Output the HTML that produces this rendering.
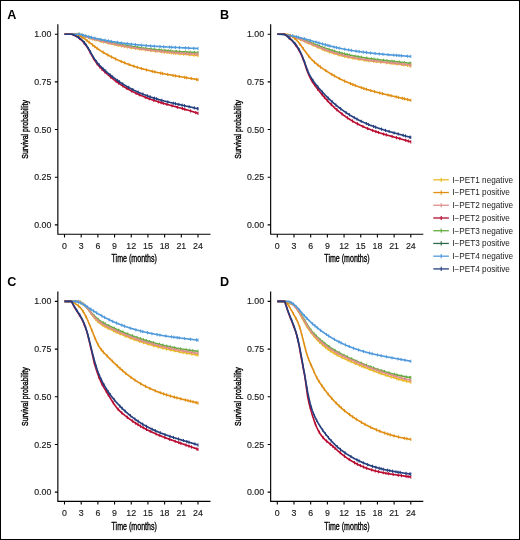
<!DOCTYPE html>
<html><head><meta charset="utf-8"><style>
html,body{margin:0;padding:0;background:#fff;}
body{width:520px;height:540px;overflow:hidden;}
svg{display:block;will-change:transform;}
text{font-family:"Liberation Sans",sans-serif;}
</style></head><body>
<svg width="520" height="540" viewBox="0 0 520 540" font-family="Liberation Sans, sans-serif">
<rect x="0.5" y="0.5" width="519" height="539" fill="#fff" stroke="#000" stroke-width="1"/>
<g transform="translate(0,0)">
<text x="7.2" y="18.9" font-size="12.6" font-weight="bold">A</text>
<path d="M57.85,24.3V234.2H210.5" fill="none" stroke="#000" stroke-width="1.15"/>
<path d="M54.85,224.90H57.85M54.85,177.23H57.85M54.85,129.55H57.85M54.85,81.88H57.85M54.85,34.20H57.85M64.50,234.2V237.39999999999998M81.19,234.2V237.39999999999998M97.88,234.2V237.39999999999998M114.56,234.2V237.39999999999998M131.25,234.2V237.39999999999998M147.94,234.2V237.39999999999998M164.62,234.2V237.39999999999998M181.31,234.2V237.39999999999998M198.00,234.2V237.39999999999998" stroke="#000" stroke-width="1.1"/>
<text x="51.3" y="228.00" font-size="8.8" text-anchor="end" fill="#1a1a1a" stroke="#1a1a1a" stroke-width="0.15">0.00</text>
<text x="51.3" y="180.33" font-size="8.8" text-anchor="end" fill="#1a1a1a" stroke="#1a1a1a" stroke-width="0.15">0.25</text>
<text x="51.3" y="132.65" font-size="8.8" text-anchor="end" fill="#1a1a1a" stroke="#1a1a1a" stroke-width="0.15">0.50</text>
<text x="51.3" y="84.98" font-size="8.8" text-anchor="end" fill="#1a1a1a" stroke="#1a1a1a" stroke-width="0.15">0.75</text>
<text x="51.3" y="37.30" font-size="8.8" text-anchor="end" fill="#1a1a1a" stroke="#1a1a1a" stroke-width="0.15">1.00</text>
<text x="64.50" y="248.6" font-size="8.8" text-anchor="middle" fill="#1a1a1a" stroke="#1a1a1a" stroke-width="0.15">0</text>
<text x="81.19" y="248.6" font-size="8.8" text-anchor="middle" fill="#1a1a1a" stroke="#1a1a1a" stroke-width="0.15">3</text>
<text x="97.88" y="248.6" font-size="8.8" text-anchor="middle" fill="#1a1a1a" stroke="#1a1a1a" stroke-width="0.15">6</text>
<text x="114.56" y="248.6" font-size="8.8" text-anchor="middle" fill="#1a1a1a" stroke="#1a1a1a" stroke-width="0.15">9</text>
<text x="131.25" y="248.6" font-size="8.8" text-anchor="middle" fill="#1a1a1a" stroke="#1a1a1a" stroke-width="0.15">12</text>
<text x="147.94" y="248.6" font-size="8.8" text-anchor="middle" fill="#1a1a1a" stroke="#1a1a1a" stroke-width="0.15">15</text>
<text x="164.62" y="248.6" font-size="8.8" text-anchor="middle" fill="#1a1a1a" stroke="#1a1a1a" stroke-width="0.15">18</text>
<text x="181.31" y="248.6" font-size="8.8" text-anchor="middle" fill="#1a1a1a" stroke="#1a1a1a" stroke-width="0.15">21</text>
<text x="198.00" y="248.6" font-size="8.8" text-anchor="middle" fill="#1a1a1a" stroke="#1a1a1a" stroke-width="0.15">24</text>
<text x="134.2" y="262.4" font-size="10" text-anchor="middle" textLength="45.3" lengthAdjust="spacingAndGlyphs" stroke="#000" stroke-width="0.35">Time (months)</text>
<text transform="translate(28.3,129.4) rotate(-90)" x="0" y="0" font-size="9.7" text-anchor="middle" textLength="58.6" lengthAdjust="spacingAndGlyphs" stroke="#000" stroke-width="0.4">Survival probability</text>
<path d="M64.5,34.2 L65.1,34.2 L65.6,34.2 L66.2,34.2 L66.7,34.2 L67.3,34.2 L67.8,34.2 L68.4,34.2 L69.0,34.2 L69.5,34.2 L70.1,34.2 L70.6,34.2 L71.2,34.2 L71.7,34.2 L72.3,34.2 L72.8,34.2 L73.4,34.2 L74.0,34.2 L74.5,34.2 L75.1,34.2 L75.6,34.2 L76.2,34.2 L76.7,34.2 L77.3,34.2 L77.8,34.2 L78.4,34.2 L79.0,34.4 L79.5,34.6 L80.1,34.8 L80.6,35.0 L81.2,35.2 L81.7,35.4 L82.3,35.6 L82.9,35.8 L83.4,36.0 L84.0,36.2 L84.5,36.3 L85.1,36.5 L85.6,36.7 L86.2,36.9 L86.8,37.1 L87.3,37.3 L87.9,37.4 L88.4,37.6 L89.0,37.8 L89.5,38.0 L90.1,38.1 L90.6,38.3 L91.2,38.5 L91.8,38.7 L92.3,38.8 L92.9,39.0 L93.4,39.2 L94.0,39.3 L94.5,39.5 L95.1,39.6 L95.7,39.8 L96.2,40.0 L96.8,40.1 L97.3,40.3 L97.9,40.4 L98.4,40.6 L99.0,40.7 L99.5,40.9 L100.1,41.0 L100.7,41.2 L101.2,41.3 L101.8,41.5 L102.3,41.6 L102.9,41.8 L103.4,41.9 L104.0,42.0 L104.6,42.2 L105.1,42.3 L105.7,42.5 L106.2,42.6 L106.8,42.7 L107.3,42.9 L107.9,43.0 L108.4,43.1 L109.0,43.3 L109.6,43.4 L110.1,43.5 L110.7,43.7 L111.2,43.8 L111.8,43.9 L112.3,44.0 L112.9,44.2 L113.5,44.3 L114.0,44.4 L114.6,44.5 L115.1,44.6 L115.7,44.8 L116.2,44.9 L116.8,45.0 L117.3,45.1 L117.9,45.2 L118.5,45.3 L119.0,45.5 L119.6,45.6 L120.1,45.7 L120.7,45.8 L121.2,45.9 L121.8,46.0 L122.3,46.1 L122.9,46.2 L123.5,46.3 L124.0,46.4 L124.6,46.5 L125.1,46.6 L125.7,46.7 L126.2,46.8 L126.8,46.9 L127.4,47.0 L127.9,47.1 L128.5,47.2 L129.0,47.3 L129.6,47.4 L130.1,47.5 L130.7,47.6 L131.2,47.7 L131.8,47.8 L132.4,47.9 L132.9,48.0 L133.5,48.1 L134.0,48.2 L134.6,48.2 L135.1,48.3 L135.7,48.4 L136.3,48.5 L136.8,48.6 L137.4,48.7 L137.9,48.8 L138.5,48.8 L139.0,48.9 L139.6,49.0 L140.2,49.1 L140.7,49.2 L141.3,49.3 L141.8,49.3 L142.4,49.4 L142.9,49.5 L143.5,49.6 L144.0,49.6 L144.6,49.7 L145.2,49.8 L145.7,49.9 L146.3,50.0 L146.8,50.0 L147.4,50.1 L147.9,50.2 L148.5,50.2 L149.1,50.3 L149.6,50.4 L150.2,50.5 L150.7,50.5 L151.3,50.6 L151.8,50.7 L152.4,50.7 L152.9,50.8 L153.5,50.9 L154.1,51.0 L154.6,51.0 L155.2,51.1 L155.7,51.2 L156.3,51.2 L156.8,51.3 L157.4,51.4 L157.9,51.4 L158.5,51.5 L159.1,51.5 L159.6,51.6 L160.2,51.7 L160.7,51.7 L161.3,51.8 L161.8,51.9 L162.4,51.9 L163.0,52.0 L163.5,52.0 L164.1,52.1 L164.6,52.2 L165.2,52.2 L165.7,52.3 L166.3,52.4 L166.9,52.4 L167.4,52.5 L168.0,52.5 L168.5,52.6 L169.1,52.6 L169.6,52.7 L170.2,52.8 L170.7,52.8 L171.3,52.9 L171.9,52.9 L172.4,53.0 L173.0,53.1 L173.5,53.1 L174.1,53.2 L174.6,53.2 L175.2,53.3 L175.8,53.3 L176.3,53.4 L176.9,53.5 L177.4,53.5 L178.0,53.6 L178.5,53.6 L179.1,53.7 L179.6,53.7 L180.2,53.8 L180.8,53.8 L181.3,53.9 L181.9,54.0 L182.4,54.0 L183.0,54.1 L183.5,54.1 L184.1,54.2 L184.7,54.2 L185.2,54.3 L185.8,54.3 L186.3,54.4 L186.9,54.5 L187.4,54.5 L188.0,54.6 L188.5,54.6 L189.1,54.7 L189.7,54.7 L190.2,54.8 L190.8,54.9 L191.3,54.9 L191.9,55.0 L192.4,55.0 L193.0,55.1 L193.6,55.1 L194.1,55.2 L194.7,55.2 L195.2,55.3 L195.8,55.4 L196.3,55.4 L196.9,55.5 L197.4,55.5 L198.0,55.6" fill="none" stroke="#E9BB22" stroke-width="1.65" stroke-linejoin="round"/><path d="M79.10,32.85V36.05M84.79,34.83V38.03M89.97,36.51V39.71M92.86,37.39V40.59M96.06,38.32V41.52M101.65,39.85V43.05M103.62,40.35V43.55M108.99,41.67V44.87M114.27,42.86V46.06M118.16,43.68V46.88M121.38,44.32V47.52M124.48,44.91V48.11M127.49,45.45V48.65M131.30,46.11V49.31M135.35,46.76V49.96M139.61,47.41V50.61M145.71,48.28V51.48M150.96,48.97V52.17M155.50,49.53V52.73M161.57,50.23V53.43M164.42,50.55V53.75M167.04,50.83V54.03M171.54,51.31V54.51M173.67,51.53V54.73M175.76,51.74V54.94M179.86,52.16V55.36M183.75,52.55V55.75M189.52,53.13V56.33M194.10,53.59V56.79M198.00,53.99V57.19" stroke="#E9BB22" stroke-width="1"/>
<path d="M64.5,34.2 L65.1,34.2 L65.6,34.2 L66.2,34.2 L66.7,34.2 L67.3,34.2 L67.8,34.2 L68.4,34.2 L69.0,34.2 L69.5,34.2 L70.1,34.2 L70.6,34.2 L71.2,34.2 L71.7,34.2 L72.3,34.2 L72.8,34.2 L73.4,34.2 L74.0,34.2 L74.5,34.2 L75.1,34.2 L75.6,34.2 L76.2,34.2 L76.7,34.2 L77.3,34.2 L77.8,34.2 L78.4,34.2 L79.0,34.4 L79.5,34.5 L80.1,34.7 L80.6,34.9 L81.2,35.0 L81.7,35.2 L82.3,35.4 L82.9,35.5 L83.4,35.7 L84.0,35.9 L84.5,36.0 L85.1,36.2 L85.6,36.3 L86.2,36.5 L86.8,36.7 L87.3,36.8 L87.9,37.0 L88.4,37.1 L89.0,37.3 L89.5,37.4 L90.1,37.6 L90.6,37.7 L91.2,37.9 L91.8,38.0 L92.3,38.2 L92.9,38.3 L93.4,38.5 L94.0,38.6 L94.5,38.8 L95.1,38.9 L95.7,39.0 L96.2,39.2 L96.8,39.3 L97.3,39.5 L97.9,39.6 L98.4,39.7 L99.0,39.9 L99.5,40.0 L100.1,40.1 L100.7,40.3 L101.2,40.4 L101.8,40.5 L102.3,40.7 L102.9,40.8 L103.4,40.9 L104.0,41.1 L104.6,41.2 L105.1,41.3 L105.7,41.4 L106.2,41.6 L106.8,41.7 L107.3,41.8 L107.9,41.9 L108.4,42.1 L109.0,42.2 L109.6,42.3 L110.1,42.4 L110.7,42.5 L111.2,42.6 L111.8,42.8 L112.3,42.9 L112.9,43.0 L113.5,43.1 L114.0,43.2 L114.6,43.3 L115.1,43.4 L115.7,43.6 L116.2,43.7 L116.8,43.8 L117.3,43.9 L117.9,44.0 L118.5,44.1 L119.0,44.2 L119.6,44.3 L120.1,44.4 L120.7,44.5 L121.2,44.6 L121.8,44.7 L122.3,44.8 L122.9,44.9 L123.5,45.0 L124.0,45.1 L124.6,45.2 L125.1,45.3 L125.7,45.4 L126.2,45.5 L126.8,45.6 L127.4,45.7 L127.9,45.8 L128.5,45.9 L129.0,46.0 L129.6,46.1 L130.1,46.2 L130.7,46.2 L131.2,46.3 L131.8,46.4 L132.4,46.5 L132.9,46.6 L133.5,46.7 L134.0,46.8 L134.6,46.9 L135.1,46.9 L135.7,47.0 L136.3,47.1 L136.8,47.2 L137.4,47.3 L137.9,47.3 L138.5,47.4 L139.0,47.5 L139.6,47.6 L140.2,47.7 L140.7,47.7 L141.3,47.8 L141.8,47.9 L142.4,48.0 L142.9,48.0 L143.5,48.1 L144.0,48.2 L144.6,48.3 L145.2,48.3 L145.7,48.4 L146.3,48.5 L146.8,48.5 L147.4,48.6 L147.9,48.7 L148.5,48.7 L149.1,48.8 L149.6,48.9 L150.2,48.9 L150.7,49.0 L151.3,49.1 L151.8,49.1 L152.4,49.2 L152.9,49.3 L153.5,49.3 L154.1,49.4 L154.6,49.5 L155.2,49.5 L155.7,49.6 L156.3,49.6 L156.8,49.7 L157.4,49.7 L157.9,49.8 L158.5,49.9 L159.1,49.9 L159.6,50.0 L160.2,50.0 L160.7,50.1 L161.3,50.1 L161.8,50.2 L162.4,50.2 L163.0,50.3 L163.5,50.3 L164.1,50.4 L164.6,50.4 L165.2,50.5 L165.7,50.5 L166.3,50.6 L166.9,50.6 L167.4,50.7 L168.0,50.7 L168.5,50.8 L169.1,50.8 L169.6,50.9 L170.2,50.9 L170.7,51.0 L171.3,51.0 L171.9,51.1 L172.4,51.1 L173.0,51.1 L173.5,51.2 L174.1,51.2 L174.6,51.3 L175.2,51.3 L175.8,51.3 L176.3,51.4 L176.9,51.4 L177.4,51.5 L178.0,51.5 L178.5,51.5 L179.1,51.6 L179.6,51.6 L180.2,51.7 L180.8,51.7 L181.3,51.7 L181.9,51.8 L182.4,51.8 L183.0,51.8 L183.5,51.9 L184.1,51.9 L184.7,51.9 L185.2,52.0 L185.8,52.0 L186.3,52.0 L186.9,52.1 L187.4,52.1 L188.0,52.1 L188.5,52.1 L189.1,52.2 L189.7,52.2 L190.2,52.2 L190.8,52.3 L191.3,52.3 L191.9,52.3 L192.4,52.3 L193.0,52.4 L193.6,52.4 L194.1,52.4 L194.7,52.4 L195.2,52.5 L195.8,52.5 L196.3,52.5 L196.9,52.5 L197.4,52.6 L198.0,52.6" fill="none" stroke="#63AC40" stroke-width="1.65" stroke-linejoin="round"/><path d="M78.39,32.60V35.80M81.37,33.50V36.70M83.36,34.09V37.29M86.11,34.88V38.08M90.95,36.21V39.41M93.73,36.94V40.14M97.22,37.83V41.03M99.18,38.32V41.52M104.59,39.59V42.79M107.18,40.17V43.37M110.25,40.84V44.04M115.87,41.99V45.19M119.94,42.78V45.98M125.42,43.76V46.96M130.04,44.54V47.74M135.08,45.33V48.53M137.41,45.67V48.87M141.61,46.26V49.46M145.68,46.80V50.00M151.26,47.48V50.68M154.71,47.86V51.06M159.16,48.33V51.53M161.35,48.54V51.74M164.91,48.88V52.08M168.21,49.16V52.36M170.78,49.37V52.57M176.13,49.78V52.98M179.66,50.02V53.22M185.69,50.39V53.59M190.10,50.62V53.82M194.57,50.83V54.03M198.00,50.98V54.18" stroke="#63AC40" stroke-width="1"/>
<path d="M64.5,34.2 L65.1,34.2 L65.6,34.2 L66.2,34.2 L66.7,34.2 L67.3,34.2 L67.8,34.2 L68.4,34.2 L69.0,34.2 L69.5,34.2 L70.1,34.2 L70.6,34.2 L71.2,34.2 L71.7,34.2 L72.3,34.2 L72.8,34.2 L73.4,34.2 L74.0,34.2 L74.5,34.2 L75.1,34.2 L75.6,34.2 L76.2,34.2 L76.7,34.2 L77.3,34.2 L77.8,34.2 L78.4,34.2 L79.0,34.4 L79.5,34.6 L80.1,34.8 L80.6,35.0 L81.2,35.1 L81.7,35.3 L82.3,35.5 L82.9,35.7 L83.4,35.9 L84.0,36.0 L84.5,36.2 L85.1,36.4 L85.6,36.6 L86.2,36.7 L86.8,36.9 L87.3,37.1 L87.9,37.3 L88.4,37.4 L89.0,37.6 L89.5,37.8 L90.1,37.9 L90.6,38.1 L91.2,38.3 L91.8,38.4 L92.3,38.6 L92.9,38.7 L93.4,38.9 L94.0,39.1 L94.5,39.2 L95.1,39.4 L95.7,39.5 L96.2,39.7 L96.8,39.8 L97.3,40.0 L97.9,40.1 L98.4,40.3 L99.0,40.4 L99.5,40.6 L100.1,40.7 L100.7,40.9 L101.2,41.0 L101.8,41.2 L102.3,41.3 L102.9,41.4 L103.4,41.6 L104.0,41.7 L104.6,41.9 L105.1,42.0 L105.7,42.1 L106.2,42.3 L106.8,42.4 L107.3,42.5 L107.9,42.7 L108.4,42.8 L109.0,42.9 L109.6,43.1 L110.1,43.2 L110.7,43.3 L111.2,43.4 L111.8,43.6 L112.3,43.7 L112.9,43.8 L113.5,43.9 L114.0,44.0 L114.6,44.2 L115.1,44.3 L115.7,44.4 L116.2,44.5 L116.8,44.6 L117.3,44.8 L117.9,44.9 L118.5,45.0 L119.0,45.1 L119.6,45.2 L120.1,45.3 L120.7,45.4 L121.2,45.5 L121.8,45.6 L122.3,45.7 L122.9,45.9 L123.5,46.0 L124.0,46.1 L124.6,46.2 L125.1,46.3 L125.7,46.4 L126.2,46.5 L126.8,46.6 L127.4,46.7 L127.9,46.8 L128.5,46.9 L129.0,47.0 L129.6,47.1 L130.1,47.2 L130.7,47.3 L131.2,47.4 L131.8,47.4 L132.4,47.5 L132.9,47.6 L133.5,47.7 L134.0,47.8 L134.6,47.9 L135.1,48.0 L135.7,48.1 L136.3,48.2 L136.8,48.2 L137.4,48.3 L137.9,48.4 L138.5,48.5 L139.0,48.6 L139.6,48.7 L140.2,48.7 L140.7,48.8 L141.3,48.9 L141.8,49.0 L142.4,49.1 L142.9,49.1 L143.5,49.2 L144.0,49.3 L144.6,49.4 L145.2,49.5 L145.7,49.5 L146.3,49.6 L146.8,49.7 L147.4,49.8 L147.9,49.8 L148.5,49.9 L149.1,50.0 L149.6,50.0 L150.2,50.1 L150.7,50.2 L151.3,50.2 L151.8,50.3 L152.4,50.4 L152.9,50.4 L153.5,50.5 L154.1,50.6 L154.6,50.6 L155.2,50.7 L155.7,50.8 L156.3,50.8 L156.8,50.9 L157.4,51.0 L157.9,51.0 L158.5,51.1 L159.1,51.1 L159.6,51.2 L160.2,51.3 L160.7,51.3 L161.3,51.4 L161.8,51.4 L162.4,51.5 L163.0,51.5 L163.5,51.6 L164.1,51.7 L164.6,51.7 L165.2,51.8 L165.7,51.8 L166.3,51.9 L166.9,51.9 L167.4,52.0 L168.0,52.0 L168.5,52.1 L169.1,52.1 L169.6,52.2 L170.2,52.2 L170.7,52.3 L171.3,52.3 L171.9,52.4 L172.4,52.4 L173.0,52.5 L173.5,52.5 L174.1,52.6 L174.6,52.6 L175.2,52.7 L175.8,52.7 L176.3,52.8 L176.9,52.8 L177.4,52.9 L178.0,52.9 L178.5,52.9 L179.1,53.0 L179.6,53.0 L180.2,53.1 L180.8,53.1 L181.3,53.2 L181.9,53.2 L182.4,53.2 L183.0,53.3 L183.5,53.3 L184.1,53.4 L184.7,53.4 L185.2,53.4 L185.8,53.5 L186.3,53.5 L186.9,53.6 L187.4,53.6 L188.0,53.6 L188.5,53.7 L189.1,53.7 L189.7,53.7 L190.2,53.8 L190.8,53.8 L191.3,53.9 L191.9,53.9 L192.4,53.9 L193.0,54.0 L193.6,54.0 L194.1,54.0 L194.7,54.1 L195.2,54.1 L195.8,54.1 L196.3,54.2 L196.9,54.2 L197.4,54.2 L198.0,54.3" fill="none" stroke="#DE8F8A" stroke-width="1.65" stroke-linejoin="round"/><path d="M79.39,32.93V36.13M81.96,33.79V36.99M85.75,35.01V38.21M88.69,35.92V39.12M92.32,36.99V40.19M94.67,37.66V40.86M100.65,39.27V42.47M103.50,40.00V43.20M108.25,41.15V44.35M111.45,41.88V45.08M117.04,43.09V46.29M121.75,44.03V47.23M124.25,44.51V47.71M129.72,45.49V48.69M135.61,46.46V49.66M141.33,47.32V50.52M145.65,47.92V51.12M148.20,48.26V51.46M150.95,48.60V51.80M156.77,49.29V52.49M161.02,49.75V52.95M163.72,50.03V53.23M169.36,50.56V53.76M173.98,50.97V54.17M178.30,51.32V54.52M181.82,51.59V54.79M185.48,51.86V55.06M188.43,52.07V55.27M190.53,52.21V55.41M196.14,52.57V55.77M198.00,52.68V55.88" stroke="#DE8F8A" stroke-width="1"/>
<path d="M64.5,34.2 L65.1,34.2 L65.6,34.2 L66.2,34.2 L66.7,34.2 L67.3,34.2 L67.8,34.2 L68.4,34.2 L69.0,34.2 L69.5,34.2 L70.1,34.2 L70.6,34.2 L71.2,34.2 L71.7,34.2 L72.3,34.2 L72.8,34.2 L73.4,34.2 L74.0,34.2 L74.5,34.3 L75.1,34.3 L75.6,34.4 L76.2,34.6 L76.7,34.7 L77.3,34.9 L77.8,35.1 L78.4,35.3 L79.0,35.5 L79.5,35.8 L80.1,36.1 L80.6,36.4 L81.2,36.7 L81.7,37.0 L82.3,37.3 L82.9,37.7 L83.4,38.0 L84.0,38.4 L84.5,38.8 L85.1,39.2 L85.6,39.6 L86.2,40.0 L86.8,40.4 L87.3,40.8 L87.9,41.3 L88.4,41.7 L89.0,42.1 L89.5,42.6 L90.1,43.0 L90.6,43.4 L91.2,43.9 L91.8,44.3 L92.3,44.7 L92.9,45.2 L93.4,45.6 L94.0,46.0 L94.5,46.5 L95.1,46.9 L95.7,47.3 L96.2,47.7 L96.8,48.1 L97.3,48.5 L97.9,48.9 L98.4,49.3 L99.0,49.6 L99.5,50.0 L100.1,50.4 L100.7,50.7 L101.2,51.1 L101.8,51.5 L102.3,51.8 L102.9,52.1 L103.4,52.5 L104.0,52.8 L104.6,53.1 L105.1,53.5 L105.7,53.8 L106.2,54.1 L106.8,54.4 L107.3,54.7 L107.9,55.0 L108.4,55.3 L109.0,55.6 L109.6,55.9 L110.1,56.2 L110.7,56.5 L111.2,56.8 L111.8,57.1 L112.3,57.3 L112.9,57.6 L113.5,57.9 L114.0,58.2 L114.6,58.4 L115.1,58.7 L115.7,59.0 L116.2,59.2 L116.8,59.5 L117.3,59.7 L117.9,60.0 L118.5,60.2 L119.0,60.5 L119.6,60.7 L120.1,61.0 L120.7,61.2 L121.2,61.5 L121.8,61.7 L122.3,61.9 L122.9,62.2 L123.5,62.4 L124.0,62.6 L124.6,62.8 L125.1,63.0 L125.7,63.3 L126.2,63.5 L126.8,63.7 L127.4,63.9 L127.9,64.1 L128.5,64.3 L129.0,64.5 L129.6,64.7 L130.1,64.9 L130.7,65.1 L131.2,65.3 L131.8,65.5 L132.4,65.7 L132.9,65.9 L133.5,66.1 L134.0,66.3 L134.6,66.4 L135.1,66.6 L135.7,66.8 L136.3,67.0 L136.8,67.1 L137.4,67.3 L137.9,67.5 L138.5,67.7 L139.0,67.8 L139.6,68.0 L140.2,68.2 L140.7,68.3 L141.3,68.5 L141.8,68.6 L142.4,68.8 L142.9,68.9 L143.5,69.1 L144.0,69.3 L144.6,69.4 L145.2,69.5 L145.7,69.7 L146.3,69.8 L146.8,70.0 L147.4,70.1 L147.9,70.3 L148.5,70.4 L149.1,70.5 L149.6,70.7 L150.2,70.8 L150.7,71.0 L151.3,71.1 L151.8,71.2 L152.4,71.3 L152.9,71.5 L153.5,71.6 L154.1,71.7 L154.6,71.9 L155.2,72.0 L155.7,72.1 L156.3,72.2 L156.8,72.3 L157.4,72.5 L157.9,72.6 L158.5,72.7 L159.1,72.8 L159.6,72.9 L160.2,73.0 L160.7,73.2 L161.3,73.3 L161.8,73.4 L162.4,73.5 L163.0,73.6 L163.5,73.7 L164.1,73.8 L164.6,73.9 L165.2,74.0 L165.7,74.1 L166.3,74.2 L166.9,74.3 L167.4,74.4 L168.0,74.5 L168.5,74.6 L169.1,74.7 L169.6,74.8 L170.2,74.9 L170.7,75.0 L171.3,75.1 L171.9,75.2 L172.4,75.3 L173.0,75.4 L173.5,75.5 L174.1,75.6 L174.6,75.7 L175.2,75.8 L175.8,75.9 L176.3,76.0 L176.9,76.1 L177.4,76.2 L178.0,76.3 L178.5,76.4 L179.1,76.5 L179.6,76.6 L180.2,76.7 L180.8,76.8 L181.3,76.9 L181.9,77.0 L182.4,77.0 L183.0,77.1 L183.5,77.2 L184.1,77.3 L184.7,77.4 L185.2,77.5 L185.8,77.6 L186.3,77.7 L186.9,77.8 L187.4,77.9 L188.0,78.0 L188.5,78.1 L189.1,78.2 L189.7,78.3 L190.2,78.4 L190.8,78.4 L191.3,78.5 L191.9,78.6 L192.4,78.7 L193.0,78.8 L193.6,78.9 L194.1,79.0 L194.7,79.1 L195.2,79.2 L195.8,79.3 L196.3,79.4 L196.9,79.5 L197.4,79.6 L198.0,79.7" fill="none" stroke="#E08E12" stroke-width="1.65" stroke-linejoin="round"/><path d="M78.67,33.82V37.02M81.96,35.52V38.72M87.04,39.03V42.23M89.10,40.62V43.82M92.60,43.37V46.57M94.67,44.96V48.16M97.13,46.77V49.97M103.11,50.68V53.88M107.80,53.37V56.57M111.53,55.34V58.54M115.67,57.36V60.56M121.25,59.86V63.06M124.64,61.25V64.45M129.05,62.93V66.13M133.85,64.59V67.79M137.28,65.69V68.89M141.39,66.91V70.11M146.53,68.31V71.51M152.27,69.72V72.92M154.84,70.30V73.50M160.68,71.54V74.74M162.65,71.93V75.13M167.74,72.90V76.10M173.07,73.86V77.06M175.59,74.29V77.49M179.28,74.92V78.12M184.63,75.81V79.01M186.64,76.15V79.35M191.21,76.92V80.12M196.46,77.83V81.03M198.00,78.11V81.31" stroke="#E08E12" stroke-width="1"/>
<path d="M64.5,34.2 L65.1,34.2 L65.6,34.2 L66.2,34.2 L66.7,34.2 L67.3,34.2 L67.8,34.2 L68.4,34.2 L69.0,34.2 L69.5,34.2 L70.1,34.2 L70.6,34.2 L71.2,34.2 L71.7,34.2 L72.3,34.2 L72.8,34.2 L73.4,34.2 L74.0,34.2 L74.5,34.2 L75.1,34.2 L75.6,34.2 L76.2,34.2 L76.7,34.2 L77.3,34.2 L77.8,34.2 L78.4,34.2 L79.0,34.2 L79.5,34.2 L80.1,34.3 L80.6,34.5 L81.2,34.7 L81.7,34.8 L82.3,35.0 L82.9,35.1 L83.4,35.3 L84.0,35.4 L84.5,35.6 L85.1,35.8 L85.6,35.9 L86.2,36.0 L86.8,36.2 L87.3,36.3 L87.9,36.5 L88.4,36.6 L89.0,36.8 L89.5,36.9 L90.1,37.0 L90.6,37.2 L91.2,37.3 L91.8,37.5 L92.3,37.6 L92.9,37.7 L93.4,37.8 L94.0,38.0 L94.5,38.1 L95.1,38.2 L95.7,38.4 L96.2,38.5 L96.8,38.6 L97.3,38.7 L97.9,38.8 L98.4,39.0 L99.0,39.1 L99.5,39.2 L100.1,39.3 L100.7,39.4 L101.2,39.5 L101.8,39.7 L102.3,39.8 L102.9,39.9 L103.4,40.0 L104.0,40.1 L104.6,40.2 L105.1,40.3 L105.7,40.4 L106.2,40.5 L106.8,40.6 L107.3,40.7 L107.9,40.8 L108.4,40.9 L109.0,41.0 L109.6,41.1 L110.1,41.2 L110.7,41.3 L111.2,41.4 L111.8,41.5 L112.3,41.6 L112.9,41.7 L113.5,41.8 L114.0,41.9 L114.6,41.9 L115.1,42.0 L115.7,42.1 L116.2,42.2 L116.8,42.3 L117.3,42.4 L117.9,42.4 L118.5,42.5 L119.0,42.6 L119.6,42.7 L120.1,42.8 L120.7,42.8 L121.2,42.9 L121.8,43.0 L122.3,43.1 L122.9,43.1 L123.5,43.2 L124.0,43.3 L124.6,43.4 L125.1,43.4 L125.7,43.5 L126.2,43.6 L126.8,43.6 L127.4,43.7 L127.9,43.8 L128.5,43.8 L129.0,43.9 L129.6,44.0 L130.1,44.0 L130.7,44.1 L131.2,44.2 L131.8,44.2 L132.4,44.3 L132.9,44.3 L133.5,44.4 L134.0,44.5 L134.6,44.5 L135.1,44.6 L135.7,44.6 L136.3,44.7 L136.8,44.7 L137.4,44.8 L137.9,44.9 L138.5,44.9 L139.0,45.0 L139.6,45.0 L140.2,45.1 L140.7,45.1 L141.3,45.2 L141.8,45.2 L142.4,45.3 L142.9,45.3 L143.5,45.4 L144.0,45.4 L144.6,45.5 L145.2,45.5 L145.7,45.5 L146.3,45.6 L146.8,45.6 L147.4,45.7 L147.9,45.7 L148.5,45.8 L149.1,45.8 L149.6,45.8 L150.2,45.9 L150.7,45.9 L151.3,46.0 L151.8,46.0 L152.4,46.1 L152.9,46.1 L153.5,46.1 L154.1,46.2 L154.6,46.2 L155.2,46.2 L155.7,46.3 L156.3,46.3 L156.8,46.4 L157.4,46.4 L157.9,46.4 L158.5,46.5 L159.1,46.5 L159.6,46.5 L160.2,46.6 L160.7,46.6 L161.3,46.6 L161.8,46.7 L162.4,46.7 L163.0,46.7 L163.5,46.8 L164.1,46.8 L164.6,46.8 L165.2,46.9 L165.7,46.9 L166.3,46.9 L166.9,47.0 L167.4,47.0 L168.0,47.0 L168.5,47.0 L169.1,47.1 L169.6,47.1 L170.2,47.1 L170.7,47.2 L171.3,47.2 L171.9,47.2 L172.4,47.3 L173.0,47.3 L173.5,47.3 L174.1,47.3 L174.6,47.4 L175.2,47.4 L175.8,47.4 L176.3,47.5 L176.9,47.5 L177.4,47.5 L178.0,47.5 L178.5,47.6 L179.1,47.6 L179.6,47.6 L180.2,47.6 L180.8,47.7 L181.3,47.7 L181.9,47.7 L182.4,47.8 L183.0,47.8 L183.5,47.8 L184.1,47.8 L184.7,47.9 L185.2,47.9 L185.8,47.9 L186.3,47.9 L186.9,48.0 L187.4,48.0 L188.0,48.0 L188.5,48.1 L189.1,48.1 L189.7,48.1 L190.2,48.1 L190.8,48.2 L191.3,48.2 L191.9,48.2 L192.4,48.2 L193.0,48.3 L193.6,48.3 L194.1,48.3 L194.7,48.4 L195.2,48.4 L195.8,48.4 L196.3,48.4 L196.9,48.5 L197.4,48.5 L198.0,48.5" fill="none" stroke="#509ADB" stroke-width="1.65" stroke-linejoin="round"/><path d="M79.66,32.64V35.84M82.55,33.46V36.66M85.33,34.22V37.42M88.79,35.12V38.32M91.49,35.79V38.99M94.88,36.58V39.78M100.78,37.86V41.06M105.12,38.71V41.91M108.48,39.32V42.52M111.56,39.85V43.05M117.48,40.79V43.99M121.28,41.33V44.53M127.32,42.11V45.31M131.42,42.58V45.78M135.54,43.02V46.22M141.23,43.56V46.76M146.27,43.99V47.19M150.64,44.33V47.53M154.37,44.59V47.79M159.98,44.95V48.15M163.64,45.17V48.37M169.44,45.50V48.70M171.67,45.61V48.81M175.41,45.81V49.01M179.53,46.01V49.21M185.44,46.30V49.50M188.44,46.45V49.65M193.74,46.71V49.91M198.00,46.94V50.14" stroke="#509ADB" stroke-width="1"/>
<path d="M64.5,34.2 L65.1,34.2 L65.6,34.2 L66.2,34.2 L66.7,34.2 L67.3,34.2 L67.8,34.2 L68.4,34.2 L69.0,34.2 L69.5,34.2 L70.1,34.2 L70.6,34.2 L71.2,34.2 L71.7,34.2 L72.3,34.4 L72.8,34.7 L73.4,34.9 L74.0,35.2 L74.5,35.5 L75.1,35.7 L75.6,36.0 L76.2,36.3 L76.7,36.6 L77.3,36.9 L77.8,37.3 L78.4,37.6 L79.0,38.0 L79.5,38.4 L80.1,38.8 L80.6,39.3 L81.2,39.8 L81.7,40.3 L82.3,40.9 L82.9,41.5 L83.4,42.1 L84.0,42.8 L84.5,43.5 L85.1,44.2 L85.6,44.9 L86.2,45.7 L86.8,46.6 L87.3,47.4 L87.9,48.3 L88.4,49.2 L89.0,50.2 L89.5,51.2 L90.1,52.2 L90.6,53.2 L91.2,54.3 L91.8,55.3 L92.3,56.3 L92.9,57.3 L93.4,58.3 L94.0,59.2 L94.5,60.1 L95.1,61.0 L95.7,61.8 L96.2,62.5 L96.8,63.3 L97.3,64.0 L97.9,64.7 L98.4,65.4 L99.0,66.0 L99.5,66.6 L100.1,67.2 L100.7,67.8 L101.2,68.4 L101.8,68.9 L102.3,69.5 L102.9,70.0 L103.4,70.6 L104.0,71.1 L104.6,71.6 L105.1,72.1 L105.7,72.7 L106.2,73.2 L106.8,73.7 L107.3,74.2 L107.9,74.7 L108.4,75.1 L109.0,75.6 L109.6,76.1 L110.1,76.6 L110.7,77.0 L111.2,77.5 L111.8,77.9 L112.3,78.4 L112.9,78.8 L113.5,79.3 L114.0,79.7 L114.6,80.1 L115.1,80.6 L115.7,81.0 L116.2,81.4 L116.8,81.8 L117.3,82.2 L117.9,82.6 L118.5,83.0 L119.0,83.4 L119.6,83.8 L120.1,84.1 L120.7,84.5 L121.2,84.9 L121.8,85.2 L122.3,85.6 L122.9,86.0 L123.5,86.3 L124.0,86.7 L124.6,87.0 L125.1,87.4 L125.7,87.7 L126.2,88.0 L126.8,88.4 L127.4,88.7 L127.9,89.0 L128.5,89.3 L129.0,89.6 L129.6,89.9 L130.1,90.2 L130.7,90.5 L131.2,90.8 L131.8,91.1 L132.4,91.4 L132.9,91.7 L133.5,92.0 L134.0,92.3 L134.6,92.5 L135.1,92.8 L135.7,93.1 L136.3,93.4 L136.8,93.6 L137.4,93.9 L137.9,94.1 L138.5,94.4 L139.0,94.6 L139.6,94.9 L140.2,95.1 L140.7,95.4 L141.3,95.6 L141.8,95.8 L142.4,96.1 L142.9,96.3 L143.5,96.5 L144.0,96.8 L144.6,97.0 L145.2,97.2 L145.7,97.4 L146.3,97.6 L146.8,97.9 L147.4,98.1 L147.9,98.3 L148.5,98.5 L149.1,98.7 L149.6,98.9 L150.2,99.1 L150.7,99.3 L151.3,99.5 L151.8,99.7 L152.4,99.9 L152.9,100.0 L153.5,100.2 L154.1,100.4 L154.6,100.6 L155.2,100.8 L155.7,101.0 L156.3,101.2 L156.8,101.3 L157.4,101.5 L157.9,101.7 L158.5,101.9 L159.1,102.0 L159.6,102.2 L160.2,102.4 L160.7,102.5 L161.3,102.7 L161.8,102.9 L162.4,103.0 L163.0,103.2 L163.5,103.4 L164.1,103.5 L164.6,103.7 L165.2,103.8 L165.7,104.0 L166.3,104.2 L166.9,104.3 L167.4,104.5 L168.0,104.6 L168.5,104.8 L169.1,104.9 L169.6,105.1 L170.2,105.2 L170.7,105.4 L171.3,105.5 L171.9,105.7 L172.4,105.9 L173.0,106.0 L173.5,106.2 L174.1,106.3 L174.6,106.5 L175.2,106.6 L175.8,106.8 L176.3,106.9 L176.9,107.1 L177.4,107.2 L178.0,107.4 L178.5,107.5 L179.1,107.7 L179.6,107.8 L180.2,108.0 L180.8,108.1 L181.3,108.3 L181.9,108.4 L182.4,108.6 L183.0,108.8 L183.5,108.9 L184.1,109.1 L184.7,109.2 L185.2,109.4 L185.8,109.5 L186.3,109.7 L186.9,109.9 L187.4,110.0 L188.0,110.2 L188.5,110.3 L189.1,110.5 L189.7,110.7 L190.2,110.8 L190.8,111.0 L191.3,111.2 L191.9,111.4 L192.4,111.5 L193.0,111.7 L193.6,111.9 L194.1,112.1 L194.7,112.2 L195.2,112.4 L195.8,112.6 L196.3,112.8 L196.9,113.0 L197.4,113.1 L198.0,113.3" fill="none" stroke="#B80A30" stroke-width="1.65" stroke-linejoin="round"/><path d="M79.61,36.88V40.08M84.19,41.44V44.64M90.19,50.80V54.00M93.52,56.83V60.03M97.13,62.17V65.37M99.92,65.43V68.63M102.08,67.65V70.85M104.92,70.37V73.57M110.68,75.44V78.64M116.14,79.71V82.91M118.55,81.45V84.65M123.02,84.44V87.64M126.96,86.85V90.05M131.39,89.31V92.51M136.09,91.67V94.87M139.31,93.16V96.36M145.27,95.65V98.85M149.16,97.12V100.32M153.73,98.71V101.91M158.33,100.20V103.40M161.04,101.02V104.22M163.25,101.68V104.88M166.91,102.73V105.93M172.04,104.15V107.35M177.39,105.61V108.81M182.38,106.98V110.18M184.80,107.66V110.86M190.56,109.35V112.55M195.85,111.02V114.22M198.00,111.74V114.94" stroke="#B80A30" stroke-width="1"/>
<path d="M64.5,34.2 L65.1,34.2 L65.6,34.2 L66.2,34.2 L66.7,34.2 L67.3,34.2 L67.8,34.2 L68.4,34.2 L69.0,34.2 L69.5,34.2 L70.1,34.2 L70.6,34.2 L71.2,34.2 L71.7,34.2 L72.3,34.4 L72.8,34.6 L73.4,34.9 L74.0,35.1 L74.5,35.3 L75.1,35.6 L75.6,35.8 L76.2,36.1 L76.7,36.4 L77.3,36.7 L77.8,37.0 L78.4,37.3 L79.0,37.7 L79.5,38.1 L80.1,38.5 L80.6,38.9 L81.2,39.4 L81.7,39.9 L82.3,40.4 L82.9,41.0 L83.4,41.6 L84.0,42.2 L84.5,42.9 L85.1,43.6 L85.6,44.3 L86.2,45.1 L86.8,45.9 L87.3,46.7 L87.9,47.6 L88.4,48.5 L89.0,49.4 L89.5,50.4 L90.1,51.3 L90.6,52.3 L91.2,53.3 L91.8,54.3 L92.3,55.3 L92.9,56.3 L93.4,57.2 L94.0,58.1 L94.5,59.0 L95.1,59.8 L95.7,60.6 L96.2,61.4 L96.8,62.1 L97.3,62.8 L97.9,63.4 L98.4,64.1 L99.0,64.7 L99.5,65.3 L100.1,65.9 L100.7,66.4 L101.2,67.0 L101.8,67.5 L102.3,68.0 L102.9,68.6 L103.4,69.1 L104.0,69.6 L104.6,70.1 L105.1,70.6 L105.7,71.1 L106.2,71.6 L106.8,72.1 L107.3,72.6 L107.9,73.0 L108.4,73.5 L109.0,74.0 L109.6,74.4 L110.1,74.9 L110.7,75.3 L111.2,75.8 L111.8,76.2 L112.3,76.6 L112.9,77.1 L113.5,77.5 L114.0,77.9 L114.6,78.3 L115.1,78.7 L115.7,79.2 L116.2,79.6 L116.8,80.0 L117.3,80.3 L117.9,80.7 L118.5,81.1 L119.0,81.5 L119.6,81.9 L120.1,82.2 L120.7,82.6 L121.2,83.0 L121.8,83.3 L122.3,83.7 L122.9,84.0 L123.5,84.4 L124.0,84.7 L124.6,85.0 L125.1,85.4 L125.7,85.7 L126.2,86.0 L126.8,86.4 L127.4,86.7 L127.9,87.0 L128.5,87.3 L129.0,87.6 L129.6,87.9 L130.1,88.2 L130.7,88.5 L131.2,88.8 L131.8,89.1 L132.4,89.4 L132.9,89.6 L133.5,89.9 L134.0,90.2 L134.6,90.5 L135.1,90.7 L135.7,91.0 L136.3,91.2 L136.8,91.5 L137.4,91.8 L137.9,92.0 L138.5,92.3 L139.0,92.5 L139.6,92.7 L140.2,93.0 L140.7,93.2 L141.3,93.5 L141.8,93.7 L142.4,93.9 L142.9,94.1 L143.5,94.4 L144.0,94.6 L144.6,94.8 L145.2,95.0 L145.7,95.2 L146.3,95.4 L146.8,95.6 L147.4,95.8 L147.9,96.0 L148.5,96.2 L149.1,96.4 L149.6,96.6 L150.2,96.8 L150.7,97.0 L151.3,97.2 L151.8,97.4 L152.4,97.6 L152.9,97.7 L153.5,97.9 L154.1,98.1 L154.6,98.3 L155.2,98.4 L155.7,98.6 L156.3,98.8 L156.8,98.9 L157.4,99.1 L157.9,99.3 L158.5,99.4 L159.1,99.6 L159.6,99.7 L160.2,99.9 L160.7,100.1 L161.3,100.2 L161.8,100.4 L162.4,100.5 L163.0,100.7 L163.5,100.8 L164.1,101.0 L164.6,101.1 L165.2,101.2 L165.7,101.4 L166.3,101.5 L166.9,101.7 L167.4,101.8 L168.0,101.9 L168.5,102.1 L169.1,102.2 L169.6,102.3 L170.2,102.5 L170.7,102.6 L171.3,102.7 L171.9,102.9 L172.4,103.0 L173.0,103.1 L173.5,103.3 L174.1,103.4 L174.6,103.5 L175.2,103.6 L175.8,103.8 L176.3,103.9 L176.9,104.0 L177.4,104.1 L178.0,104.3 L178.5,104.4 L179.1,104.5 L179.6,104.6 L180.2,104.8 L180.8,104.9 L181.3,105.0 L181.9,105.1 L182.4,105.2 L183.0,105.4 L183.5,105.5 L184.1,105.6 L184.7,105.7 L185.2,105.9 L185.8,106.0 L186.3,106.1 L186.9,106.2 L187.4,106.3 L188.0,106.5 L188.5,106.6 L189.1,106.7 L189.7,106.8 L190.2,107.0 L190.8,107.1 L191.3,107.2 L191.9,107.3 L192.4,107.5 L193.0,107.6 L193.6,107.7 L194.1,107.9 L194.7,108.0 L195.2,108.1 L195.8,108.2 L196.3,108.4 L196.9,108.5 L197.4,108.6 L198.0,108.8" fill="none" stroke="#233F7E" stroke-width="1.65" stroke-linejoin="round"/><path d="M78.54,35.80V39.00M84.30,41.00V44.20M86.44,43.81V47.01M88.52,47.02V50.22M90.55,50.57V53.77M93.55,55.83V59.03M96.53,60.19V63.39M99.26,63.39V66.59M103.58,67.62V70.82M105.69,69.52V72.72M110.09,73.27V76.47M112.73,75.35V78.55M117.51,78.86V82.06M119.54,80.25V83.45M122.79,82.35V85.55M128.65,85.79V88.99M132.84,88.00V91.20M138.17,90.52V93.72M142.87,92.51V95.71M147.36,94.22V97.42M150.11,95.19V98.39M154.45,96.61V99.81M156.56,97.26V100.46M161.85,98.76V101.96M167.80,100.30V103.50M173.31,101.61V104.81M175.47,102.10V105.30M178.83,102.86V106.06M182.11,103.58V106.78M184.52,104.11V107.31M189.08,105.11V108.31M194.36,106.31V109.51M197.61,107.08V110.28M198.00,107.17V110.37" stroke="#233F7E" stroke-width="1"/>
</g>
<g transform="translate(212.8,0)">
<text x="7.2" y="18.9" font-size="12.6" font-weight="bold">B</text>
<path d="M57.85,24.3V234.2H210.5" fill="none" stroke="#000" stroke-width="1.15"/>
<path d="M54.85,224.90H57.85M54.85,177.23H57.85M54.85,129.55H57.85M54.85,81.88H57.85M54.85,34.20H57.85M64.50,234.2V237.39999999999998M81.19,234.2V237.39999999999998M97.88,234.2V237.39999999999998M114.56,234.2V237.39999999999998M131.25,234.2V237.39999999999998M147.94,234.2V237.39999999999998M164.62,234.2V237.39999999999998M181.31,234.2V237.39999999999998M198.00,234.2V237.39999999999998" stroke="#000" stroke-width="1.1"/>
<text x="51.3" y="228.00" font-size="8.8" text-anchor="end" fill="#1a1a1a" stroke="#1a1a1a" stroke-width="0.15">0.00</text>
<text x="51.3" y="180.33" font-size="8.8" text-anchor="end" fill="#1a1a1a" stroke="#1a1a1a" stroke-width="0.15">0.25</text>
<text x="51.3" y="132.65" font-size="8.8" text-anchor="end" fill="#1a1a1a" stroke="#1a1a1a" stroke-width="0.15">0.50</text>
<text x="51.3" y="84.98" font-size="8.8" text-anchor="end" fill="#1a1a1a" stroke="#1a1a1a" stroke-width="0.15">0.75</text>
<text x="51.3" y="37.30" font-size="8.8" text-anchor="end" fill="#1a1a1a" stroke="#1a1a1a" stroke-width="0.15">1.00</text>
<text x="64.50" y="248.6" font-size="8.8" text-anchor="middle" fill="#1a1a1a" stroke="#1a1a1a" stroke-width="0.15">0</text>
<text x="81.19" y="248.6" font-size="8.8" text-anchor="middle" fill="#1a1a1a" stroke="#1a1a1a" stroke-width="0.15">3</text>
<text x="97.88" y="248.6" font-size="8.8" text-anchor="middle" fill="#1a1a1a" stroke="#1a1a1a" stroke-width="0.15">6</text>
<text x="114.56" y="248.6" font-size="8.8" text-anchor="middle" fill="#1a1a1a" stroke="#1a1a1a" stroke-width="0.15">9</text>
<text x="131.25" y="248.6" font-size="8.8" text-anchor="middle" fill="#1a1a1a" stroke="#1a1a1a" stroke-width="0.15">12</text>
<text x="147.94" y="248.6" font-size="8.8" text-anchor="middle" fill="#1a1a1a" stroke="#1a1a1a" stroke-width="0.15">15</text>
<text x="164.62" y="248.6" font-size="8.8" text-anchor="middle" fill="#1a1a1a" stroke="#1a1a1a" stroke-width="0.15">18</text>
<text x="181.31" y="248.6" font-size="8.8" text-anchor="middle" fill="#1a1a1a" stroke="#1a1a1a" stroke-width="0.15">21</text>
<text x="198.00" y="248.6" font-size="8.8" text-anchor="middle" fill="#1a1a1a" stroke="#1a1a1a" stroke-width="0.15">24</text>
<text x="134.2" y="262.4" font-size="10" text-anchor="middle" textLength="45.3" lengthAdjust="spacingAndGlyphs" stroke="#000" stroke-width="0.35">Time (months)</text>
<text transform="translate(28.3,129.4) rotate(-90)" x="0" y="0" font-size="9.7" text-anchor="middle" textLength="58.6" lengthAdjust="spacingAndGlyphs" stroke="#000" stroke-width="0.4">Survival probability</text>
<path d="M64.5,34.2 L65.1,34.2 L65.6,34.2 L66.2,34.2 L66.7,34.2 L67.3,34.2 L67.8,34.2 L68.4,34.2 L69.0,34.3 L69.5,34.3 L70.1,34.4 L70.6,34.4 L71.2,34.5 L71.7,34.6 L72.3,34.7 L72.8,34.8 L73.4,34.9 L74.0,35.0 L74.5,35.1 L75.1,35.3 L75.6,35.4 L76.2,35.5 L76.7,35.7 L77.3,35.8 L77.8,36.0 L78.4,36.1 L79.0,36.3 L79.5,36.5 L80.1,36.7 L80.6,36.9 L81.2,37.0 L81.7,37.2 L82.3,37.4 L82.9,37.6 L83.4,37.8 L84.0,38.0 L84.5,38.3 L85.1,38.5 L85.6,38.7 L86.2,38.9 L86.8,39.2 L87.3,39.4 L87.9,39.6 L88.4,39.9 L89.0,40.1 L89.5,40.3 L90.1,40.6 L90.6,40.8 L91.2,41.1 L91.8,41.3 L92.3,41.6 L92.9,41.8 L93.4,42.1 L94.0,42.3 L94.5,42.6 L95.1,42.8 L95.7,43.1 L96.2,43.3 L96.8,43.6 L97.3,43.8 L97.9,44.1 L98.4,44.3 L99.0,44.6 L99.5,44.8 L100.1,45.1 L100.7,45.3 L101.2,45.6 L101.8,45.8 L102.3,46.1 L102.9,46.3 L103.4,46.6 L104.0,46.8 L104.6,47.1 L105.1,47.3 L105.7,47.5 L106.2,47.8 L106.8,48.0 L107.3,48.3 L107.9,48.5 L108.4,48.7 L109.0,49.0 L109.6,49.2 L110.1,49.4 L110.7,49.6 L111.2,49.9 L111.8,50.1 L112.3,50.3 L112.9,50.5 L113.5,50.7 L114.0,50.9 L114.6,51.2 L115.1,51.4 L115.7,51.6 L116.2,51.8 L116.8,52.0 L117.3,52.2 L117.9,52.4 L118.5,52.6 L119.0,52.7 L119.6,52.9 L120.1,53.1 L120.7,53.3 L121.2,53.5 L121.8,53.6 L122.3,53.8 L122.9,54.0 L123.5,54.2 L124.0,54.3 L124.6,54.5 L125.1,54.6 L125.7,54.8 L126.2,55.0 L126.8,55.1 L127.4,55.3 L127.9,55.4 L128.5,55.6 L129.0,55.7 L129.6,55.9 L130.1,56.0 L130.7,56.1 L131.2,56.3 L131.8,56.4 L132.4,56.5 L132.9,56.7 L133.5,56.8 L134.0,56.9 L134.6,57.0 L135.1,57.2 L135.7,57.3 L136.3,57.4 L136.8,57.5 L137.4,57.6 L137.9,57.8 L138.5,57.9 L139.0,58.0 L139.6,58.1 L140.2,58.2 L140.7,58.3 L141.3,58.4 L141.8,58.5 L142.4,58.6 L142.9,58.7 L143.5,58.8 L144.0,58.9 L144.6,59.0 L145.2,59.1 L145.7,59.2 L146.3,59.3 L146.8,59.4 L147.4,59.5 L147.9,59.5 L148.5,59.6 L149.1,59.7 L149.6,59.8 L150.2,59.9 L150.7,60.0 L151.3,60.1 L151.8,60.1 L152.4,60.2 L152.9,60.3 L153.5,60.4 L154.1,60.4 L154.6,60.5 L155.2,60.6 L155.7,60.7 L156.3,60.7 L156.8,60.8 L157.4,60.9 L157.9,60.9 L158.5,61.0 L159.1,61.1 L159.6,61.2 L160.2,61.2 L160.7,61.3 L161.3,61.4 L161.8,61.4 L162.4,61.5 L163.0,61.6 L163.5,61.6 L164.1,61.7 L164.6,61.7 L165.2,61.8 L165.7,61.9 L166.3,61.9 L166.9,62.0 L167.4,62.1 L168.0,62.1 L168.5,62.2 L169.1,62.2 L169.6,62.3 L170.2,62.4 L170.7,62.4 L171.3,62.5 L171.9,62.5 L172.4,62.6 L173.0,62.7 L173.5,62.7 L174.1,62.8 L174.6,62.9 L175.2,62.9 L175.8,63.0 L176.3,63.0 L176.9,63.1 L177.4,63.2 L178.0,63.2 L178.5,63.3 L179.1,63.4 L179.6,63.4 L180.2,63.5 L180.8,63.5 L181.3,63.6 L181.9,63.7 L182.4,63.7 L183.0,63.8 L183.5,63.9 L184.1,63.9 L184.7,64.0 L185.2,64.1 L185.8,64.1 L186.3,64.2 L186.9,64.3 L187.4,64.4 L188.0,64.4 L188.5,64.5 L189.1,64.6 L189.7,64.7 L190.2,64.7 L190.8,64.8 L191.3,64.9 L191.9,65.0 L192.4,65.0 L193.0,65.1 L193.6,65.2 L194.1,65.3 L194.7,65.4 L195.2,65.5 L195.8,65.5 L196.3,65.6 L196.9,65.7 L197.4,65.8 L198.0,65.9" fill="none" stroke="#E9BB22" stroke-width="1.65" stroke-linejoin="round"/><path d="M80.06,35.06V38.26M82.54,35.92V39.12M87.69,37.95V41.15M93.32,40.41V43.61M96.09,41.66V44.86M100.43,43.63V46.83M105.04,45.67V48.87M109.53,47.57V50.77M111.88,48.52V51.72M116.58,50.30V53.50M121.17,51.85V55.05M126.55,53.45V56.65M131.85,54.82V58.02M135.16,55.58V58.78M140.12,56.59V59.79M145.69,57.59V60.79M151.36,58.46V61.66M153.98,58.83V62.03M156.04,59.10V62.30M160.70,59.69V62.89M163.54,60.02V63.22M167.84,60.51V63.71M173.73,61.15V64.35M177.26,61.55V64.75M180.26,61.89V65.09M184.11,62.34V65.54M188.80,62.94V66.14M191.17,63.26V66.46M194.70,63.77V66.97M197.21,64.17V67.37M198.00,64.30V67.50" stroke="#E9BB22" stroke-width="1"/>
<path d="M64.5,34.2 L65.1,34.2 L65.6,34.2 L66.2,34.2 L66.7,34.2 L67.3,34.2 L67.8,34.2 L68.4,34.2 L69.0,34.2 L69.5,34.3 L70.1,34.3 L70.6,34.4 L71.2,34.4 L71.7,34.5 L72.3,34.6 L72.8,34.6 L73.4,34.7 L74.0,34.8 L74.5,34.9 L75.1,35.0 L75.6,35.1 L76.2,35.3 L76.7,35.4 L77.3,35.5 L77.8,35.6 L78.4,35.8 L79.0,35.9 L79.5,36.1 L80.1,36.2 L80.6,36.4 L81.2,36.5 L81.7,36.7 L82.3,36.9 L82.9,37.0 L83.4,37.2 L84.0,37.4 L84.5,37.6 L85.1,37.8 L85.6,38.0 L86.2,38.1 L86.8,38.3 L87.3,38.5 L87.9,38.7 L88.4,38.9 L89.0,39.1 L89.5,39.4 L90.1,39.6 L90.6,39.8 L91.2,40.0 L91.8,40.2 L92.3,40.4 L92.9,40.6 L93.4,40.9 L94.0,41.1 L94.5,41.3 L95.1,41.5 L95.7,41.7 L96.2,41.9 L96.8,42.2 L97.3,42.4 L97.9,42.6 L98.4,42.8 L99.0,43.1 L99.5,43.3 L100.1,43.5 L100.7,43.7 L101.2,43.9 L101.8,44.2 L102.3,44.4 L102.9,44.6 L103.4,44.8 L104.0,45.0 L104.6,45.2 L105.1,45.5 L105.7,45.7 L106.2,45.9 L106.8,46.1 L107.3,46.3 L107.9,46.5 L108.4,46.7 L109.0,46.9 L109.6,47.1 L110.1,47.3 L110.7,47.6 L111.2,47.8 L111.8,48.0 L112.3,48.2 L112.9,48.4 L113.5,48.5 L114.0,48.7 L114.6,48.9 L115.1,49.1 L115.7,49.3 L116.2,49.5 L116.8,49.7 L117.3,49.9 L117.9,50.0 L118.5,50.2 L119.0,50.4 L119.6,50.6 L120.1,50.7 L120.7,50.9 L121.2,51.1 L121.8,51.3 L122.3,51.4 L122.9,51.6 L123.5,51.7 L124.0,51.9 L124.6,52.1 L125.1,52.2 L125.7,52.4 L126.2,52.5 L126.8,52.7 L127.4,52.8 L127.9,53.0 L128.5,53.1 L129.0,53.2 L129.6,53.4 L130.1,53.5 L130.7,53.7 L131.2,53.8 L131.8,53.9 L132.4,54.1 L132.9,54.2 L133.5,54.3 L134.0,54.4 L134.6,54.6 L135.1,54.7 L135.7,54.8 L136.3,54.9 L136.8,55.1 L137.4,55.2 L137.9,55.3 L138.5,55.4 L139.0,55.5 L139.6,55.6 L140.2,55.8 L140.7,55.9 L141.3,56.0 L141.8,56.1 L142.4,56.2 L142.9,56.3 L143.5,56.4 L144.0,56.5 L144.6,56.6 L145.2,56.7 L145.7,56.8 L146.3,56.9 L146.8,57.0 L147.4,57.1 L147.9,57.2 L148.5,57.3 L149.1,57.4 L149.6,57.5 L150.2,57.6 L150.7,57.6 L151.3,57.7 L151.8,57.8 L152.4,57.9 L152.9,58.0 L153.5,58.1 L154.1,58.2 L154.6,58.2 L155.2,58.3 L155.7,58.4 L156.3,58.5 L156.8,58.6 L157.4,58.6 L157.9,58.7 L158.5,58.8 L159.1,58.9 L159.6,58.9 L160.2,59.0 L160.7,59.1 L161.3,59.2 L161.8,59.2 L162.4,59.3 L163.0,59.4 L163.5,59.5 L164.1,59.5 L164.6,59.6 L165.2,59.7 L165.7,59.7 L166.3,59.8 L166.9,59.9 L167.4,59.9 L168.0,60.0 L168.5,60.1 L169.1,60.1 L169.6,60.2 L170.2,60.3 L170.7,60.3 L171.3,60.4 L171.9,60.4 L172.4,60.5 L173.0,60.6 L173.5,60.6 L174.1,60.7 L174.6,60.8 L175.2,60.8 L175.8,60.9 L176.3,60.9 L176.9,61.0 L177.4,61.1 L178.0,61.1 L178.5,61.2 L179.1,61.3 L179.6,61.3 L180.2,61.4 L180.8,61.4 L181.3,61.5 L181.9,61.6 L182.4,61.6 L183.0,61.7 L183.5,61.7 L184.1,61.8 L184.7,61.9 L185.2,61.9 L185.8,62.0 L186.3,62.0 L186.9,62.1 L187.4,62.2 L188.0,62.2 L188.5,62.3 L189.1,62.3 L189.7,62.4 L190.2,62.5 L190.8,62.5 L191.3,62.6 L191.9,62.7 L192.4,62.7 L193.0,62.8 L193.6,62.8 L194.1,62.9 L194.7,63.0 L195.2,63.0 L195.8,63.1 L196.3,63.2 L196.9,63.2 L197.4,63.3 L198.0,63.4" fill="none" stroke="#63AC40" stroke-width="1.65" stroke-linejoin="round"/><path d="M80.24,34.67V37.87M83.76,35.73V38.93M87.26,36.93V40.13M91.46,38.49V41.69M94.30,39.60V42.80M97.28,40.78V43.98M100.61,42.09V45.29M104.46,43.60V46.80M106.75,44.49V47.69M111.83,46.38V49.58M116.20,47.89V51.09M119.39,48.92V52.12M121.67,49.61V52.81M126.80,51.06V54.26M129.29,51.71V54.91M131.79,52.33V55.53M134.28,52.91V56.11M136.57,53.41V56.61M142.30,54.57V57.77M145.37,55.14V58.34M148.59,55.70V58.90M154.01,56.55V59.75M158.55,57.20V60.40M161.28,57.56V60.76M165.04,58.04V61.24M170.67,58.71V61.91M174.18,59.11V62.31M179.10,59.65V62.85M181.45,59.91V63.11M186.43,60.45V63.65M191.61,61.03V64.23M197.01,61.66V64.86M198.00,61.78V64.98" stroke="#63AC40" stroke-width="1"/>
<path d="M64.5,34.2 L65.1,34.2 L65.6,34.2 L66.2,34.2 L66.7,34.2 L67.3,34.2 L67.8,34.2 L68.4,34.3 L69.0,34.3 L69.5,34.4 L70.1,34.4 L70.6,34.5 L71.2,34.6 L71.7,34.6 L72.3,34.7 L72.8,34.8 L73.4,34.9 L74.0,35.0 L74.5,35.1 L75.1,35.3 L75.6,35.4 L76.2,35.5 L76.7,35.7 L77.3,35.8 L77.8,35.9 L78.4,36.1 L79.0,36.2 L79.5,36.4 L80.1,36.6 L80.6,36.7 L81.2,36.9 L81.7,37.1 L82.3,37.3 L82.9,37.5 L83.4,37.7 L84.0,37.9 L84.5,38.1 L85.1,38.3 L85.6,38.5 L86.2,38.7 L86.8,38.9 L87.3,39.1 L87.9,39.3 L88.4,39.5 L89.0,39.8 L89.5,40.0 L90.1,40.2 L90.6,40.4 L91.2,40.7 L91.8,40.9 L92.3,41.1 L92.9,41.4 L93.4,41.6 L94.0,41.8 L94.5,42.1 L95.1,42.3 L95.7,42.6 L96.2,42.8 L96.8,43.0 L97.3,43.3 L97.9,43.5 L98.4,43.8 L99.0,44.0 L99.5,44.2 L100.1,44.5 L100.7,44.7 L101.2,45.0 L101.8,45.2 L102.3,45.4 L102.9,45.7 L103.4,45.9 L104.0,46.1 L104.6,46.4 L105.1,46.6 L105.7,46.8 L106.2,47.1 L106.8,47.3 L107.3,47.5 L107.9,47.8 L108.4,48.0 L109.0,48.2 L109.6,48.4 L110.1,48.7 L110.7,48.9 L111.2,49.1 L111.8,49.3 L112.3,49.5 L112.9,49.7 L113.5,50.0 L114.0,50.2 L114.6,50.4 L115.1,50.6 L115.7,50.8 L116.2,51.0 L116.8,51.2 L117.3,51.4 L117.9,51.6 L118.5,51.8 L119.0,51.9 L119.6,52.1 L120.1,52.3 L120.7,52.5 L121.2,52.7 L121.8,52.8 L122.3,53.0 L122.9,53.2 L123.5,53.4 L124.0,53.5 L124.6,53.7 L125.1,53.9 L125.7,54.0 L126.2,54.2 L126.8,54.3 L127.4,54.5 L127.9,54.6 L128.5,54.8 L129.0,54.9 L129.6,55.1 L130.1,55.2 L130.7,55.4 L131.2,55.5 L131.8,55.6 L132.4,55.8 L132.9,55.9 L133.5,56.1 L134.0,56.2 L134.6,56.3 L135.1,56.4 L135.7,56.6 L136.3,56.7 L136.8,56.8 L137.4,56.9 L137.9,57.1 L138.5,57.2 L139.0,57.3 L139.6,57.4 L140.2,57.5 L140.7,57.6 L141.3,57.7 L141.8,57.8 L142.4,57.9 L142.9,58.1 L143.5,58.2 L144.0,58.3 L144.6,58.4 L145.2,58.5 L145.7,58.6 L146.3,58.7 L146.8,58.8 L147.4,58.8 L147.9,58.9 L148.5,59.0 L149.1,59.1 L149.6,59.2 L150.2,59.3 L150.7,59.4 L151.3,59.5 L151.8,59.6 L152.4,59.6 L152.9,59.7 L153.5,59.8 L154.1,59.9 L154.6,60.0 L155.2,60.1 L155.7,60.1 L156.3,60.2 L156.8,60.3 L157.4,60.4 L157.9,60.4 L158.5,60.5 L159.1,60.6 L159.6,60.7 L160.2,60.7 L160.7,60.8 L161.3,60.9 L161.8,60.9 L162.4,61.0 L163.0,61.1 L163.5,61.1 L164.1,61.2 L164.6,61.3 L165.2,61.3 L165.7,61.4 L166.3,61.5 L166.9,61.5 L167.4,61.6 L168.0,61.7 L168.5,61.7 L169.1,61.8 L169.6,61.9 L170.2,61.9 L170.7,62.0 L171.3,62.0 L171.9,62.1 L172.4,62.2 L173.0,62.2 L173.5,62.3 L174.1,62.3 L174.6,62.4 L175.2,62.5 L175.8,62.5 L176.3,62.6 L176.9,62.6 L177.4,62.7 L178.0,62.8 L178.5,62.8 L179.1,62.9 L179.6,62.9 L180.2,63.0 L180.8,63.1 L181.3,63.1 L181.9,63.2 L182.4,63.2 L183.0,63.3 L183.5,63.4 L184.1,63.4 L184.7,63.5 L185.2,63.5 L185.8,63.6 L186.3,63.7 L186.9,63.7 L187.4,63.8 L188.0,63.9 L188.5,63.9 L189.1,64.0 L189.7,64.0 L190.2,64.1 L190.8,64.2 L191.3,64.2 L191.9,64.3 L192.4,64.4 L193.0,64.4 L193.6,64.5 L194.1,64.6 L194.7,64.6 L195.2,64.7 L195.8,64.8 L196.3,64.9 L196.9,64.9 L197.4,65.0 L198.0,65.1" fill="none" stroke="#DE8F8A" stroke-width="1.65" stroke-linejoin="round"/><path d="M77.69,34.30V37.50M79.90,34.93V38.13M84.01,36.28V39.48M89.12,38.23V41.43M91.86,39.35V42.55M94.92,40.65V43.85M99.10,42.45V45.65M104.17,44.61V47.81M109.86,46.96V50.16M112.33,47.93V51.13M115.05,48.95V52.15M120.33,50.78V53.98M124.97,52.21V55.41M129.92,53.57V56.77M136.03,55.04V58.24M141.89,56.26V59.46M147.35,57.24V60.44M152.54,58.07V61.27M156.14,58.59V61.79M160.76,59.20V62.40M163.48,59.54V62.74M168.59,60.14V63.34M173.70,60.70V63.90M178.66,61.23V64.43M182.46,61.64V64.84M185.98,62.03V65.23M189.68,62.45V65.65M191.77,62.69V65.89M197.24,63.37V66.57M198.00,63.47V66.67" stroke="#DE8F8A" stroke-width="1"/>
<path d="M64.5,34.2 L65.1,34.2 L65.6,34.2 L66.2,34.2 L66.7,34.2 L67.3,34.2 L67.8,34.2 L68.4,34.2 L69.0,34.2 L69.5,34.2 L70.1,34.2 L70.6,34.2 L71.2,34.2 L71.7,34.2 L72.3,34.2 L72.8,34.2 L73.4,34.2 L74.0,34.3 L74.5,34.4 L75.1,34.5 L75.6,34.6 L76.2,34.8 L76.7,35.0 L77.3,35.2 L77.8,35.5 L78.4,35.8 L79.0,36.1 L79.5,36.5 L80.1,36.9 L80.6,37.3 L81.2,37.7 L81.7,38.2 L82.3,38.7 L82.9,39.2 L83.4,39.8 L84.0,40.4 L84.5,41.0 L85.1,41.6 L85.6,42.3 L86.2,43.0 L86.8,43.7 L87.3,44.4 L87.9,45.1 L88.4,45.8 L89.0,46.6 L89.5,47.4 L90.1,48.1 L90.6,48.9 L91.2,49.7 L91.8,50.5 L92.3,51.3 L92.9,52.0 L93.4,52.8 L94.0,53.6 L94.5,54.3 L95.1,55.0 L95.7,55.8 L96.2,56.4 L96.8,57.1 L97.3,57.8 L97.9,58.4 L98.4,59.0 L99.0,59.6 L99.5,60.1 L100.1,60.7 L100.7,61.2 L101.2,61.8 L101.8,62.3 L102.3,62.7 L102.9,63.2 L103.4,63.7 L104.0,64.1 L104.6,64.6 L105.1,65.0 L105.7,65.5 L106.2,65.9 L106.8,66.3 L107.3,66.7 L107.9,67.1 L108.4,67.5 L109.0,67.9 L109.6,68.3 L110.1,68.7 L110.7,69.1 L111.2,69.4 L111.8,69.8 L112.3,70.2 L112.9,70.6 L113.5,70.9 L114.0,71.3 L114.6,71.6 L115.1,72.0 L115.7,72.3 L116.2,72.7 L116.8,73.0 L117.3,73.4 L117.9,73.7 L118.5,74.0 L119.0,74.4 L119.6,74.7 L120.1,75.0 L120.7,75.3 L121.2,75.7 L121.8,76.0 L122.3,76.3 L122.9,76.6 L123.5,76.9 L124.0,77.2 L124.6,77.5 L125.1,77.8 L125.7,78.1 L126.2,78.3 L126.8,78.6 L127.4,78.9 L127.9,79.2 L128.5,79.5 L129.0,79.7 L129.6,80.0 L130.1,80.3 L130.7,80.5 L131.2,80.8 L131.8,81.1 L132.4,81.3 L132.9,81.6 L133.5,81.8 L134.0,82.1 L134.6,82.3 L135.1,82.5 L135.7,82.8 L136.3,83.0 L136.8,83.3 L137.4,83.5 L137.9,83.7 L138.5,83.9 L139.0,84.2 L139.6,84.4 L140.2,84.6 L140.7,84.8 L141.3,85.0 L141.8,85.3 L142.4,85.5 L142.9,85.7 L143.5,85.9 L144.0,86.1 L144.6,86.3 L145.2,86.5 L145.7,86.7 L146.3,86.9 L146.8,87.1 L147.4,87.3 L147.9,87.4 L148.5,87.6 L149.1,87.8 L149.6,88.0 L150.2,88.2 L150.7,88.4 L151.3,88.5 L151.8,88.7 L152.4,88.9 L152.9,89.1 L153.5,89.2 L154.1,89.4 L154.6,89.6 L155.2,89.8 L155.7,89.9 L156.3,90.1 L156.8,90.2 L157.4,90.4 L157.9,90.6 L158.5,90.7 L159.1,90.9 L159.6,91.0 L160.2,91.2 L160.7,91.3 L161.3,91.5 L161.8,91.7 L162.4,91.8 L163.0,92.0 L163.5,92.1 L164.1,92.2 L164.6,92.4 L165.2,92.5 L165.7,92.7 L166.3,92.8 L166.9,93.0 L167.4,93.1 L168.0,93.2 L168.5,93.4 L169.1,93.5 L169.6,93.7 L170.2,93.8 L170.7,93.9 L171.3,94.1 L171.9,94.2 L172.4,94.3 L173.0,94.5 L173.5,94.6 L174.1,94.7 L174.6,94.9 L175.2,95.0 L175.8,95.1 L176.3,95.3 L176.9,95.4 L177.4,95.5 L178.0,95.6 L178.5,95.8 L179.1,95.9 L179.6,96.0 L180.2,96.2 L180.8,96.3 L181.3,96.4 L181.9,96.5 L182.4,96.7 L183.0,96.8 L183.5,96.9 L184.1,97.1 L184.7,97.2 L185.2,97.3 L185.8,97.4 L186.3,97.6 L186.9,97.7 L187.4,97.8 L188.0,97.9 L188.5,98.1 L189.1,98.2 L189.7,98.3 L190.2,98.5 L190.8,98.6 L191.3,98.7 L191.9,98.9 L192.4,99.0 L193.0,99.1 L193.6,99.2 L194.1,99.4 L194.7,99.5 L195.2,99.6 L195.8,99.8 L196.3,99.9 L196.9,100.1 L197.4,100.2 L198.0,100.3" fill="none" stroke="#E08E12" stroke-width="1.65" stroke-linejoin="round"/><path d="M77.78,33.87V37.07M82.01,36.83V40.03M86.97,42.35V45.55M90.51,47.12V50.32M95.92,54.49V57.69M101.70,60.60V63.80M105.27,63.55V66.75M107.79,65.43V68.63M112.91,68.97V72.17M119.00,72.76V75.96M121.56,74.24V77.44M126.48,76.87V80.07M131.87,79.48V82.68M137.66,82.00V85.20M140.12,82.99V86.19M142.45,83.89V87.09M148.52,86.04V89.24M150.95,86.84V90.04M153.64,87.69V90.89M157.98,88.98V92.18M161.79,90.04V93.24M166.87,91.37V94.57M169.61,92.05V95.25M175.37,93.44V96.64M178.23,94.10V97.30M183.38,95.29V98.49M185.61,95.80V99.00M189.53,96.71V99.91M191.61,97.19V100.39M194.87,97.96V101.16M198.00,98.72V101.92" stroke="#E08E12" stroke-width="1"/>
<path d="M64.5,34.2 L65.1,34.2 L65.6,34.2 L66.2,34.3 L66.7,34.3 L67.3,34.3 L67.8,34.3 L68.4,34.4 L69.0,34.4 L69.5,34.5 L70.1,34.5 L70.6,34.6 L71.2,34.6 L71.7,34.7 L72.3,34.8 L72.8,34.8 L73.4,34.9 L74.0,35.0 L74.5,35.1 L75.1,35.2 L75.6,35.2 L76.2,35.3 L76.7,35.4 L77.3,35.5 L77.8,35.6 L78.4,35.7 L79.0,35.8 L79.5,35.9 L80.1,36.0 L80.6,36.1 L81.2,36.3 L81.7,36.4 L82.3,36.5 L82.9,36.6 L83.4,36.7 L84.0,36.9 L84.5,37.0 L85.1,37.1 L85.6,37.2 L86.2,37.4 L86.8,37.5 L87.3,37.7 L87.9,37.8 L88.4,37.9 L89.0,38.1 L89.5,38.2 L90.1,38.4 L90.6,38.5 L91.2,38.7 L91.8,38.8 L92.3,39.0 L92.9,39.1 L93.4,39.3 L94.0,39.4 L94.5,39.6 L95.1,39.7 L95.7,39.9 L96.2,40.0 L96.8,40.2 L97.3,40.4 L97.9,40.5 L98.4,40.7 L99.0,40.8 L99.5,41.0 L100.1,41.2 L100.7,41.3 L101.2,41.5 L101.8,41.7 L102.3,41.8 L102.9,42.0 L103.4,42.1 L104.0,42.3 L104.6,42.5 L105.1,42.6 L105.7,42.8 L106.2,43.0 L106.8,43.1 L107.3,43.3 L107.9,43.4 L108.4,43.6 L109.0,43.8 L109.6,43.9 L110.1,44.1 L110.7,44.2 L111.2,44.4 L111.8,44.5 L112.3,44.7 L112.9,44.8 L113.5,45.0 L114.0,45.1 L114.6,45.3 L115.1,45.4 L115.7,45.6 L116.2,45.7 L116.8,45.9 L117.3,46.0 L117.9,46.2 L118.5,46.3 L119.0,46.4 L119.6,46.6 L120.1,46.7 L120.7,46.8 L121.2,47.0 L121.8,47.1 L122.3,47.2 L122.9,47.4 L123.5,47.5 L124.0,47.6 L124.6,47.7 L125.1,47.8 L125.7,48.0 L126.2,48.1 L126.8,48.2 L127.4,48.3 L127.9,48.4 L128.5,48.5 L129.0,48.7 L129.6,48.8 L130.1,48.9 L130.7,49.0 L131.2,49.1 L131.8,49.2 L132.4,49.3 L132.9,49.4 L133.5,49.5 L134.0,49.6 L134.6,49.7 L135.1,49.8 L135.7,49.9 L136.3,50.0 L136.8,50.1 L137.4,50.2 L137.9,50.3 L138.5,50.4 L139.0,50.5 L139.6,50.6 L140.2,50.7 L140.7,50.7 L141.3,50.8 L141.8,50.9 L142.4,51.0 L142.9,51.1 L143.5,51.2 L144.0,51.3 L144.6,51.3 L145.2,51.4 L145.7,51.5 L146.3,51.6 L146.8,51.7 L147.4,51.7 L147.9,51.8 L148.5,51.9 L149.1,52.0 L149.6,52.0 L150.2,52.1 L150.7,52.2 L151.3,52.2 L151.8,52.3 L152.4,52.4 L152.9,52.4 L153.5,52.5 L154.1,52.6 L154.6,52.6 L155.2,52.7 L155.7,52.8 L156.3,52.8 L156.8,52.9 L157.4,53.0 L157.9,53.0 L158.5,53.1 L159.1,53.1 L159.6,53.2 L160.2,53.3 L160.7,53.3 L161.3,53.4 L161.8,53.4 L162.4,53.5 L163.0,53.6 L163.5,53.6 L164.1,53.7 L164.6,53.7 L165.2,53.8 L165.7,53.8 L166.3,53.9 L166.9,53.9 L167.4,54.0 L168.0,54.0 L168.5,54.1 L169.1,54.1 L169.6,54.2 L170.2,54.2 L170.7,54.3 L171.3,54.3 L171.9,54.4 L172.4,54.4 L173.0,54.5 L173.5,54.5 L174.1,54.6 L174.6,54.6 L175.2,54.7 L175.8,54.7 L176.3,54.8 L176.9,54.8 L177.4,54.9 L178.0,54.9 L178.5,54.9 L179.1,55.0 L179.6,55.0 L180.2,55.1 L180.8,55.1 L181.3,55.2 L181.9,55.2 L182.4,55.2 L183.0,55.3 L183.5,55.3 L184.1,55.4 L184.7,55.4 L185.2,55.5 L185.8,55.5 L186.3,55.5 L186.9,55.6 L187.4,55.6 L188.0,55.7 L188.5,55.7 L189.1,55.8 L189.7,55.8 L190.2,55.8 L190.8,55.9 L191.3,55.9 L191.9,56.0 L192.4,56.0 L193.0,56.1 L193.6,56.1 L194.1,56.1 L194.7,56.2 L195.2,56.2 L195.8,56.3 L196.3,56.3 L196.9,56.4 L197.4,56.4 L198.0,56.4" fill="none" stroke="#509ADB" stroke-width="1.65" stroke-linejoin="round"/><path d="M79.63,34.34V37.54M83.47,35.15V38.35M85.66,35.65V38.85M91.76,37.21V40.41M97.41,38.79V41.99M103.18,40.47V43.67M106.16,41.34V44.54M109.75,42.37V45.57M112.64,43.17V46.37M115.11,43.84V47.04M117.19,44.38V47.58M121.24,45.37V48.57M123.70,45.93V49.13M126.38,46.51V49.71M131.92,47.62V50.82M135.89,48.35V51.55M138.60,48.81V52.01M143.34,49.55V52.75M146.40,49.99V53.19M150.54,50.55V53.75M153.67,50.94V54.14M157.77,51.41V54.61M162.34,51.89V55.09M166.52,52.30V55.50M170.12,52.63V55.83M175.37,53.08V56.28M180.96,53.53V56.73M183.65,53.74V56.94M186.17,53.94V57.14M188.59,54.12V57.32M194.62,54.58V57.78M198.00,54.84V58.04" stroke="#509ADB" stroke-width="1"/>
<path d="M64.5,34.2 L65.1,34.2 L65.6,34.2 L66.2,34.2 L66.7,34.2 L67.3,34.2 L67.8,34.2 L68.4,34.2 L69.0,34.2 L69.5,34.2 L70.1,34.2 L70.6,34.2 L71.2,34.2 L71.7,34.2 L72.3,34.6 L72.8,35.0 L73.4,35.4 L74.0,35.8 L74.5,36.3 L75.1,36.7 L75.6,37.2 L76.2,37.7 L76.7,38.1 L77.3,38.7 L77.8,39.2 L78.4,39.8 L79.0,40.3 L79.5,40.9 L80.1,41.5 L80.6,42.2 L81.2,42.9 L81.7,43.6 L82.3,44.3 L82.9,45.1 L83.4,45.8 L84.0,46.7 L84.5,47.5 L85.1,48.4 L85.6,49.3 L86.2,50.3 L86.8,51.3 L87.3,52.3 L87.9,53.4 L88.4,54.6 L89.0,55.8 L89.5,57.1 L90.1,58.5 L90.6,60.0 L91.2,61.5 L91.8,63.1 L92.3,64.8 L92.9,66.5 L93.4,68.2 L94.0,69.8 L94.5,71.3 L95.1,72.8 L95.7,74.2 L96.2,75.4 L96.8,76.6 L97.3,77.7 L97.9,78.8 L98.4,79.8 L99.0,80.7 L99.5,81.6 L100.1,82.5 L100.7,83.3 L101.2,84.1 L101.8,84.9 L102.3,85.6 L102.9,86.4 L103.4,87.2 L104.0,87.9 L104.6,88.7 L105.1,89.4 L105.7,90.1 L106.2,90.8 L106.8,91.5 L107.3,92.2 L107.9,92.9 L108.4,93.6 L109.0,94.3 L109.6,94.9 L110.1,95.6 L110.7,96.3 L111.2,96.9 L111.8,97.5 L112.3,98.2 L112.9,98.8 L113.5,99.4 L114.0,100.0 L114.6,100.6 L115.1,101.2 L115.7,101.8 L116.2,102.4 L116.8,102.9 L117.3,103.5 L117.9,104.0 L118.5,104.6 L119.0,105.1 L119.6,105.7 L120.1,106.2 L120.7,106.7 L121.2,107.2 L121.8,107.8 L122.3,108.3 L122.9,108.8 L123.5,109.2 L124.0,109.7 L124.6,110.2 L125.1,110.7 L125.7,111.1 L126.2,111.6 L126.8,112.1 L127.4,112.5 L127.9,112.9 L128.5,113.4 L129.0,113.8 L129.6,114.2 L130.1,114.7 L130.7,115.1 L131.2,115.5 L131.8,115.9 L132.4,116.3 L132.9,116.7 L133.5,117.1 L134.0,117.4 L134.6,117.8 L135.1,118.2 L135.7,118.6 L136.3,118.9 L136.8,119.3 L137.4,119.6 L137.9,120.0 L138.5,120.3 L139.0,120.7 L139.6,121.0 L140.2,121.3 L140.7,121.6 L141.3,122.0 L141.8,122.3 L142.4,122.6 L142.9,122.9 L143.5,123.2 L144.0,123.5 L144.6,123.8 L145.2,124.1 L145.7,124.4 L146.3,124.6 L146.8,124.9 L147.4,125.2 L147.9,125.5 L148.5,125.7 L149.1,126.0 L149.6,126.2 L150.2,126.5 L150.7,126.8 L151.3,127.0 L151.8,127.3 L152.4,127.5 L152.9,127.7 L153.5,128.0 L154.1,128.2 L154.6,128.4 L155.2,128.7 L155.7,128.9 L156.3,129.1 L156.8,129.3 L157.4,129.5 L157.9,129.8 L158.5,130.0 L159.1,130.2 L159.6,130.4 L160.2,130.6 L160.7,130.8 L161.3,131.0 L161.8,131.2 L162.4,131.4 L163.0,131.6 L163.5,131.8 L164.1,131.9 L164.6,132.1 L165.2,132.3 L165.7,132.5 L166.3,132.7 L166.9,132.8 L167.4,133.0 L168.0,133.2 L168.5,133.4 L169.1,133.5 L169.6,133.7 L170.2,133.9 L170.7,134.1 L171.3,134.2 L171.9,134.4 L172.4,134.5 L173.0,134.7 L173.5,134.9 L174.1,135.0 L174.6,135.2 L175.2,135.4 L175.8,135.5 L176.3,135.7 L176.9,135.8 L177.4,136.0 L178.0,136.1 L178.5,136.3 L179.1,136.4 L179.6,136.6 L180.2,136.8 L180.8,136.9 L181.3,137.1 L181.9,137.2 L182.4,137.4 L183.0,137.5 L183.5,137.7 L184.1,137.8 L184.7,138.0 L185.2,138.1 L185.8,138.3 L186.3,138.4 L186.9,138.6 L187.4,138.8 L188.0,138.9 L188.5,139.1 L189.1,139.2 L189.7,139.4 L190.2,139.5 L190.8,139.7 L191.3,139.9 L191.9,140.0 L192.4,140.2 L193.0,140.3 L193.6,140.5 L194.1,140.7 L194.7,140.8 L195.2,141.0 L195.8,141.2 L196.3,141.3 L196.9,141.5 L197.4,141.7 L198.0,141.9" fill="none" stroke="#B80A30" stroke-width="1.65" stroke-linejoin="round"/><path d="M76.91,36.71V39.91M82.90,43.51V46.71M85.72,47.84V51.04M89.77,56.13V59.33M93.80,67.65V70.85M99.56,80.04V83.24M101.68,83.15V86.35M104.94,87.57V90.77M109.39,93.14V96.34M111.61,95.74V98.94M114.55,98.98V102.18M118.43,102.97V106.17M124.06,108.16V111.36M129.18,112.33V115.53M134.58,116.21V119.41M139.70,119.45V122.65M144.60,122.18V125.38M150.10,124.87V128.07M154.89,126.95V130.15M159.90,128.88V132.08M163.11,130.01V133.21M165.75,130.89V134.09M170.86,132.48V135.68M173.49,133.26V136.46M179.28,134.90V138.10M183.71,136.13V139.33M187.03,137.05V140.25M192.89,138.72V141.92M195.48,139.49V142.69M198.00,140.27V143.47" stroke="#B80A30" stroke-width="1"/>
<path d="M64.5,34.2 L65.1,34.2 L65.6,34.2 L66.2,34.2 L66.7,34.2 L67.3,34.2 L67.8,34.2 L68.4,34.2 L69.0,34.2 L69.5,34.2 L70.1,34.2 L70.6,34.2 L71.2,34.2 L71.7,34.2 L72.3,34.7 L72.8,35.1 L73.4,35.6 L74.0,36.0 L74.5,36.5 L75.1,36.9 L75.6,37.3 L76.2,37.8 L76.7,38.2 L77.3,38.7 L77.8,39.2 L78.4,39.7 L79.0,40.2 L79.5,40.7 L80.1,41.3 L80.6,41.8 L81.2,42.4 L81.7,43.1 L82.3,43.7 L82.9,44.4 L83.4,45.2 L84.0,45.9 L84.5,46.7 L85.1,47.6 L85.6,48.5 L86.2,49.5 L86.8,50.5 L87.3,51.5 L87.9,52.6 L88.4,53.8 L89.0,55.0 L89.5,56.3 L90.1,57.7 L90.6,59.1 L91.2,60.6 L91.8,62.1 L92.3,63.7 L92.9,65.3 L93.4,66.9 L94.0,68.4 L94.5,69.9 L95.1,71.3 L95.7,72.6 L96.2,73.8 L96.8,74.9 L97.3,75.9 L97.9,76.9 L98.4,77.8 L99.0,78.7 L99.5,79.6 L100.1,80.4 L100.7,81.2 L101.2,82.0 L101.8,82.8 L102.3,83.5 L102.9,84.2 L103.4,84.9 L104.0,85.6 L104.6,86.3 L105.1,87.0 L105.7,87.7 L106.2,88.3 L106.8,88.9 L107.3,89.6 L107.9,90.2 L108.4,90.8 L109.0,91.4 L109.6,92.1 L110.1,92.7 L110.7,93.3 L111.2,93.8 L111.8,94.4 L112.3,95.0 L112.9,95.6 L113.5,96.1 L114.0,96.7 L114.6,97.3 L115.1,97.8 L115.7,98.3 L116.2,98.9 L116.8,99.4 L117.3,99.9 L117.9,100.4 L118.5,101.0 L119.0,101.5 L119.6,102.0 L120.1,102.5 L120.7,102.9 L121.2,103.4 L121.8,103.9 L122.3,104.4 L122.9,104.8 L123.5,105.3 L124.0,105.8 L124.6,106.2 L125.1,106.7 L125.7,107.1 L126.2,107.5 L126.8,108.0 L127.4,108.4 L127.9,108.8 L128.5,109.2 L129.0,109.6 L129.6,110.0 L130.1,110.4 L130.7,110.8 L131.2,111.2 L131.8,111.6 L132.4,112.0 L132.9,112.4 L133.5,112.8 L134.0,113.1 L134.6,113.5 L135.1,113.8 L135.7,114.2 L136.3,114.6 L136.8,114.9 L137.4,115.2 L137.9,115.6 L138.5,115.9 L139.0,116.2 L139.6,116.6 L140.2,116.9 L140.7,117.2 L141.3,117.5 L141.8,117.8 L142.4,118.1 L142.9,118.4 L143.5,118.7 L144.0,119.0 L144.6,119.3 L145.2,119.6 L145.7,119.9 L146.3,120.2 L146.8,120.5 L147.4,120.7 L147.9,121.0 L148.5,121.3 L149.1,121.5 L149.6,121.8 L150.2,122.1 L150.7,122.3 L151.3,122.6 L151.8,122.8 L152.4,123.1 L152.9,123.3 L153.5,123.6 L154.1,123.8 L154.6,124.0 L155.2,124.3 L155.7,124.5 L156.3,124.7 L156.8,124.9 L157.4,125.2 L157.9,125.4 L158.5,125.6 L159.1,125.8 L159.6,126.0 L160.2,126.2 L160.7,126.4 L161.3,126.6 L161.8,126.8 L162.4,127.0 L163.0,127.2 L163.5,127.4 L164.1,127.6 L164.6,127.8 L165.2,128.0 L165.7,128.2 L166.3,128.4 L166.9,128.6 L167.4,128.8 L168.0,128.9 L168.5,129.1 L169.1,129.3 L169.6,129.5 L170.2,129.6 L170.7,129.8 L171.3,130.0 L171.9,130.2 L172.4,130.3 L173.0,130.5 L173.5,130.7 L174.1,130.8 L174.6,131.0 L175.2,131.2 L175.8,131.3 L176.3,131.5 L176.9,131.6 L177.4,131.8 L178.0,132.0 L178.5,132.1 L179.1,132.3 L179.6,132.4 L180.2,132.6 L180.8,132.7 L181.3,132.9 L181.9,133.0 L182.4,133.2 L183.0,133.3 L183.5,133.5 L184.1,133.6 L184.7,133.8 L185.2,133.9 L185.8,134.1 L186.3,134.2 L186.9,134.4 L187.4,134.5 L188.0,134.7 L188.5,134.8 L189.1,135.0 L189.7,135.1 L190.2,135.3 L190.8,135.4 L191.3,135.6 L191.9,135.7 L192.4,135.9 L193.0,136.1 L193.6,136.2 L194.1,136.4 L194.7,136.5 L195.2,136.7 L195.8,136.8 L196.3,137.0 L196.9,137.1 L197.4,137.3 L198.0,137.4" fill="none" stroke="#233F7E" stroke-width="1.65" stroke-linejoin="round"/><path d="M76.13,36.15V39.35M82.11,41.91V45.11M86.46,48.33V51.53M91.76,60.54V63.74M94.88,69.15V72.35M100.17,78.90V82.10M105.05,85.32V88.52M109.68,90.59V93.79M115.59,96.66V99.86M119.35,100.16V103.36M123.03,103.35V106.55M127.86,107.17V110.37M133.29,111.03V114.23M136.64,113.19V116.39M141.38,115.99V119.19M144.20,117.52V120.72M148.45,119.66V122.86M153.60,122.00V125.20M155.82,122.92V126.12M160.80,124.86V128.06M162.82,125.59V128.79M168.76,127.59V130.79M172.66,128.80V132.00M176.32,129.88V133.08M181.27,131.27V134.47M185.40,132.40V135.60M190.39,133.75V136.95M192.70,134.37V137.57M196.99,135.55V138.75M198.00,135.84V139.04" stroke="#233F7E" stroke-width="1"/>
</g>
<g transform="translate(0,267.2)">
<text x="7.2" y="18.9" font-size="12.6" font-weight="bold">C</text>
<path d="M57.85,24.3V234.2H210.5" fill="none" stroke="#000" stroke-width="1.15"/>
<path d="M54.85,224.90H57.85M54.85,177.23H57.85M54.85,129.55H57.85M54.85,81.88H57.85M54.85,34.20H57.85M64.50,234.2V237.39999999999998M81.19,234.2V237.39999999999998M97.88,234.2V237.39999999999998M114.56,234.2V237.39999999999998M131.25,234.2V237.39999999999998M147.94,234.2V237.39999999999998M164.62,234.2V237.39999999999998M181.31,234.2V237.39999999999998M198.00,234.2V237.39999999999998" stroke="#000" stroke-width="1.1"/>
<text x="51.3" y="228.00" font-size="8.8" text-anchor="end" fill="#1a1a1a" stroke="#1a1a1a" stroke-width="0.15">0.00</text>
<text x="51.3" y="180.33" font-size="8.8" text-anchor="end" fill="#1a1a1a" stroke="#1a1a1a" stroke-width="0.15">0.25</text>
<text x="51.3" y="132.65" font-size="8.8" text-anchor="end" fill="#1a1a1a" stroke="#1a1a1a" stroke-width="0.15">0.50</text>
<text x="51.3" y="84.98" font-size="8.8" text-anchor="end" fill="#1a1a1a" stroke="#1a1a1a" stroke-width="0.15">0.75</text>
<text x="51.3" y="37.30" font-size="8.8" text-anchor="end" fill="#1a1a1a" stroke="#1a1a1a" stroke-width="0.15">1.00</text>
<text x="64.50" y="248.6" font-size="8.8" text-anchor="middle" fill="#1a1a1a" stroke="#1a1a1a" stroke-width="0.15">0</text>
<text x="81.19" y="248.6" font-size="8.8" text-anchor="middle" fill="#1a1a1a" stroke="#1a1a1a" stroke-width="0.15">3</text>
<text x="97.88" y="248.6" font-size="8.8" text-anchor="middle" fill="#1a1a1a" stroke="#1a1a1a" stroke-width="0.15">6</text>
<text x="114.56" y="248.6" font-size="8.8" text-anchor="middle" fill="#1a1a1a" stroke="#1a1a1a" stroke-width="0.15">9</text>
<text x="131.25" y="248.6" font-size="8.8" text-anchor="middle" fill="#1a1a1a" stroke="#1a1a1a" stroke-width="0.15">12</text>
<text x="147.94" y="248.6" font-size="8.8" text-anchor="middle" fill="#1a1a1a" stroke="#1a1a1a" stroke-width="0.15">15</text>
<text x="164.62" y="248.6" font-size="8.8" text-anchor="middle" fill="#1a1a1a" stroke="#1a1a1a" stroke-width="0.15">18</text>
<text x="181.31" y="248.6" font-size="8.8" text-anchor="middle" fill="#1a1a1a" stroke="#1a1a1a" stroke-width="0.15">21</text>
<text x="198.00" y="248.6" font-size="8.8" text-anchor="middle" fill="#1a1a1a" stroke="#1a1a1a" stroke-width="0.15">24</text>
<text x="134.2" y="262.4" font-size="10" text-anchor="middle" textLength="45.3" lengthAdjust="spacingAndGlyphs" stroke="#000" stroke-width="0.35">Time (months)</text>
<text transform="translate(28.3,129.4) rotate(-90)" x="0" y="0" font-size="9.7" text-anchor="middle" textLength="58.6" lengthAdjust="spacingAndGlyphs" stroke="#000" stroke-width="0.4">Survival probability</text>
<path d="M64.5,34.2 L65.1,34.2 L65.6,34.2 L66.2,34.2 L66.7,34.2 L67.3,34.2 L67.8,34.2 L68.4,34.2 L69.0,34.2 L69.5,34.2 L70.1,34.2 L70.6,34.2 L71.2,34.2 L71.7,34.2 L72.3,34.2 L72.8,34.2 L73.4,34.2 L74.0,34.2 L74.5,34.2 L75.1,34.2 L75.6,34.3 L76.2,34.3 L76.7,34.4 L77.3,34.5 L77.8,34.6 L78.4,34.8 L79.0,34.9 L79.5,35.1 L80.1,35.3 L80.6,35.5 L81.2,35.8 L81.7,36.1 L82.3,36.4 L82.9,36.8 L83.4,37.2 L84.0,37.7 L84.5,38.1 L85.1,38.6 L85.6,39.2 L86.2,39.8 L86.8,40.4 L87.3,41.1 L87.9,41.8 L88.4,42.6 L89.0,43.3 L89.5,44.1 L90.1,44.9 L90.6,45.7 L91.2,46.5 L91.8,47.3 L92.3,48.0 L92.9,48.8 L93.4,49.5 L94.0,50.2 L94.5,50.9 L95.1,51.6 L95.7,52.2 L96.2,52.8 L96.8,53.3 L97.3,53.9 L97.9,54.4 L98.4,54.9 L99.0,55.4 L99.5,55.8 L100.1,56.3 L100.7,56.7 L101.2,57.1 L101.8,57.5 L102.3,57.8 L102.9,58.2 L103.4,58.5 L104.0,58.9 L104.6,59.2 L105.1,59.5 L105.7,59.8 L106.2,60.1 L106.8,60.4 L107.3,60.7 L107.9,60.9 L108.4,61.2 L109.0,61.5 L109.6,61.8 L110.1,62.0 L110.7,62.3 L111.2,62.6 L111.8,62.9 L112.3,63.1 L112.9,63.4 L113.5,63.6 L114.0,63.9 L114.6,64.2 L115.1,64.4 L115.7,64.7 L116.2,64.9 L116.8,65.2 L117.3,65.4 L117.9,65.7 L118.5,65.9 L119.0,66.2 L119.6,66.4 L120.1,66.7 L120.7,66.9 L121.2,67.1 L121.8,67.4 L122.3,67.6 L122.9,67.8 L123.5,68.1 L124.0,68.3 L124.6,68.5 L125.1,68.8 L125.7,69.0 L126.2,69.2 L126.8,69.4 L127.4,69.7 L127.9,69.9 L128.5,70.1 L129.0,70.3 L129.6,70.5 L130.1,70.7 L130.7,71.0 L131.2,71.2 L131.8,71.4 L132.4,71.6 L132.9,71.8 L133.5,72.0 L134.0,72.2 L134.6,72.4 L135.1,72.6 L135.7,72.8 L136.3,73.0 L136.8,73.2 L137.4,73.4 L137.9,73.6 L138.5,73.8 L139.0,74.0 L139.6,74.1 L140.2,74.3 L140.7,74.5 L141.3,74.7 L141.8,74.9 L142.4,75.1 L142.9,75.2 L143.5,75.4 L144.0,75.6 L144.6,75.8 L145.2,76.0 L145.7,76.1 L146.3,76.3 L146.8,76.5 L147.4,76.6 L147.9,76.8 L148.5,77.0 L149.1,77.2 L149.6,77.3 L150.2,77.5 L150.7,77.6 L151.3,77.8 L151.8,78.0 L152.4,78.1 L152.9,78.3 L153.5,78.4 L154.1,78.6 L154.6,78.8 L155.2,78.9 L155.7,79.1 L156.3,79.2 L156.8,79.4 L157.4,79.5 L157.9,79.7 L158.5,79.8 L159.1,80.0 L159.6,80.1 L160.2,80.2 L160.7,80.4 L161.3,80.5 L161.8,80.7 L162.4,80.8 L163.0,80.9 L163.5,81.1 L164.1,81.2 L164.6,81.3 L165.2,81.5 L165.7,81.6 L166.3,81.7 L166.9,81.9 L167.4,82.0 L168.0,82.1 L168.5,82.3 L169.1,82.4 L169.6,82.5 L170.2,82.6 L170.7,82.8 L171.3,82.9 L171.9,83.0 L172.4,83.1 L173.0,83.3 L173.5,83.4 L174.1,83.5 L174.6,83.6 L175.2,83.7 L175.8,83.9 L176.3,84.0 L176.9,84.1 L177.4,84.2 L178.0,84.3 L178.5,84.4 L179.1,84.5 L179.6,84.6 L180.2,84.8 L180.8,84.9 L181.3,85.0 L181.9,85.1 L182.4,85.2 L183.0,85.3 L183.5,85.4 L184.1,85.5 L184.7,85.6 L185.2,85.7 L185.8,85.8 L186.3,85.9 L186.9,86.0 L187.4,86.1 L188.0,86.2 L188.5,86.3 L189.1,86.4 L189.7,86.5 L190.2,86.6 L190.8,86.7 L191.3,86.8 L191.9,86.9 L192.4,87.0 L193.0,87.1 L193.6,87.2 L194.1,87.3 L194.7,87.3 L195.2,87.4 L195.8,87.5 L196.3,87.6 L196.9,87.7 L197.4,87.8 L198.0,87.9" fill="none" stroke="#E9BB22" stroke-width="1.65" stroke-linejoin="round"/><path d="M80.81,34.04V37.24M82.92,35.26V38.46M86.76,38.86V42.06M91.34,45.08V48.28M95.58,50.50V53.70M97.84,52.76V55.96M102.26,56.18V59.38M105.13,57.90V61.10M107.90,59.35V62.55M113.51,62.08V65.28M116.28,63.36V66.56M120.12,65.06V68.26M125.20,67.19V70.39M130.10,69.12V72.32M134.35,70.71V73.91M139.67,72.57V75.77M143.56,73.85V77.05M148.09,75.27V78.47M153.46,76.83V80.03M158.23,78.13V81.33M162.86,79.32V82.52M166.50,80.20V83.40M170.77,81.18V84.38M174.37,81.96V85.16M179.43,83.00V86.20M182.96,83.68V86.88M186.85,84.40V87.60M191.95,85.30V88.50M196.00,85.97V89.17M198.00,86.29V89.49" stroke="#E9BB22" stroke-width="1"/>
<path d="M64.5,34.2 L65.1,34.2 L65.6,34.2 L66.2,34.2 L66.7,34.2 L67.3,34.2 L67.8,34.2 L68.4,34.2 L69.0,34.2 L69.5,34.2 L70.1,34.2 L70.6,34.2 L71.2,34.2 L71.7,34.2 L72.3,34.2 L72.8,34.2 L73.4,34.2 L74.0,34.2 L74.5,34.2 L75.1,34.2 L75.6,34.2 L76.2,34.2 L76.7,34.2 L77.3,34.2 L77.8,34.2 L78.4,34.2 L79.0,34.2 L79.5,34.4 L80.1,34.7 L80.6,35.0 L81.2,35.3 L81.7,35.7 L82.3,36.1 L82.9,36.5 L83.4,36.9 L84.0,37.4 L84.5,37.9 L85.1,38.4 L85.6,39.0 L86.2,39.6 L86.8,40.2 L87.3,40.8 L87.9,41.4 L88.4,42.1 L89.0,42.7 L89.5,43.4 L90.1,44.0 L90.6,44.7 L91.2,45.3 L91.8,46.0 L92.3,46.6 L92.9,47.2 L93.4,47.8 L94.0,48.4 L94.5,49.0 L95.1,49.5 L95.7,50.0 L96.2,50.5 L96.8,51.0 L97.3,51.5 L97.9,51.9 L98.4,52.4 L99.0,52.8 L99.5,53.2 L100.1,53.6 L100.7,54.0 L101.2,54.3 L101.8,54.7 L102.3,55.0 L102.9,55.3 L103.4,55.7 L104.0,56.0 L104.6,56.3 L105.1,56.6 L105.7,56.9 L106.2,57.2 L106.8,57.5 L107.3,57.7 L107.9,58.0 L108.4,58.3 L109.0,58.6 L109.6,58.8 L110.1,59.1 L110.7,59.4 L111.2,59.6 L111.8,59.9 L112.3,60.2 L112.9,60.4 L113.5,60.7 L114.0,60.9 L114.6,61.2 L115.1,61.5 L115.7,61.7 L116.2,62.0 L116.8,62.2 L117.3,62.5 L117.9,62.7 L118.5,62.9 L119.0,63.2 L119.6,63.4 L120.1,63.7 L120.7,63.9 L121.2,64.2 L121.8,64.4 L122.3,64.6 L122.9,64.9 L123.5,65.1 L124.0,65.3 L124.6,65.6 L125.1,65.8 L125.7,66.0 L126.2,66.2 L126.8,66.5 L127.4,66.7 L127.9,66.9 L128.5,67.1 L129.0,67.3 L129.6,67.6 L130.1,67.8 L130.7,68.0 L131.2,68.2 L131.8,68.4 L132.4,68.6 L132.9,68.8 L133.5,69.0 L134.0,69.2 L134.6,69.4 L135.1,69.6 L135.7,69.8 L136.3,70.0 L136.8,70.2 L137.4,70.4 L137.9,70.6 L138.5,70.8 L139.0,71.0 L139.6,71.2 L140.2,71.4 L140.7,71.6 L141.3,71.8 L141.8,72.0 L142.4,72.1 L142.9,72.3 L143.5,72.5 L144.0,72.7 L144.6,72.9 L145.2,73.0 L145.7,73.2 L146.3,73.4 L146.8,73.6 L147.4,73.7 L147.9,73.9 L148.5,74.1 L149.1,74.2 L149.6,74.4 L150.2,74.6 L150.7,74.7 L151.3,74.9 L151.8,75.1 L152.4,75.2 L152.9,75.4 L153.5,75.5 L154.1,75.7 L154.6,75.8 L155.2,76.0 L155.7,76.1 L156.3,76.3 L156.8,76.4 L157.4,76.6 L157.9,76.7 L158.5,76.9 L159.1,77.0 L159.6,77.2 L160.2,77.3 L160.7,77.4 L161.3,77.6 L161.8,77.7 L162.4,77.9 L163.0,78.0 L163.5,78.1 L164.1,78.3 L164.6,78.4 L165.2,78.5 L165.7,78.6 L166.3,78.8 L166.9,78.9 L167.4,79.0 L168.0,79.1 L168.5,79.3 L169.1,79.4 L169.6,79.5 L170.2,79.6 L170.7,79.7 L171.3,79.9 L171.9,80.0 L172.4,80.1 L173.0,80.2 L173.5,80.3 L174.1,80.4 L174.6,80.5 L175.2,80.6 L175.8,80.8 L176.3,80.9 L176.9,81.0 L177.4,81.1 L178.0,81.2 L178.5,81.3 L179.1,81.4 L179.6,81.5 L180.2,81.6 L180.8,81.7 L181.3,81.8 L181.9,81.8 L182.4,81.9 L183.0,82.0 L183.5,82.1 L184.1,82.2 L184.7,82.3 L185.2,82.4 L185.8,82.5 L186.3,82.6 L186.9,82.6 L187.4,82.7 L188.0,82.8 L188.5,82.9 L189.1,83.0 L189.7,83.0 L190.2,83.1 L190.8,83.2 L191.3,83.3 L191.9,83.3 L192.4,83.4 L193.0,83.5 L193.6,83.6 L194.1,83.6 L194.7,83.7 L195.2,83.8 L195.8,83.8 L196.3,83.9 L196.9,84.0 L197.4,84.0 L198.0,84.1" fill="none" stroke="#63AC40" stroke-width="1.65" stroke-linejoin="round"/><path d="M80.22,33.16V36.36M83.76,35.63V38.83M89.23,41.41V44.61M94.45,47.29V50.49M98.27,50.64V53.84M103.19,53.93V57.13M105.28,55.08V58.28M108.85,56.88V60.08M114.39,59.51V62.71M118.75,61.48V64.68M123.03,63.31V66.51M127.75,65.24V68.44M132.52,67.08V70.28M136.90,68.67V71.87M140.60,69.95V73.15M143.32,70.84V74.04M146.48,71.85V75.05M149.65,72.81V76.01M153.40,73.90V77.10M159.51,75.54V78.74M162.93,76.38V79.58M166.74,77.28V80.48M170.24,78.04V81.24M174.61,78.93V82.13M180.51,80.02V83.22M186.17,80.93V84.13M189.69,81.45V84.65M192.75,81.85V85.05M198.00,82.48V85.68" stroke="#63AC40" stroke-width="1"/>
<path d="M64.5,34.2 L65.1,34.2 L65.6,34.2 L66.2,34.2 L66.7,34.2 L67.3,34.2 L67.8,34.2 L68.4,34.2 L69.0,34.2 L69.5,34.2 L70.1,34.2 L70.6,34.2 L71.2,34.2 L71.7,34.2 L72.3,34.2 L72.8,34.2 L73.4,34.2 L74.0,34.2 L74.5,34.2 L75.1,34.2 L75.6,34.2 L76.2,34.2 L76.7,34.2 L77.3,34.2 L77.8,34.2 L78.4,34.3 L79.0,34.4 L79.5,34.6 L80.1,34.9 L80.6,35.2 L81.2,35.5 L81.7,35.8 L82.3,36.2 L82.9,36.6 L83.4,37.0 L84.0,37.5 L84.5,38.0 L85.1,38.5 L85.6,39.1 L86.2,39.7 L86.8,40.3 L87.3,41.0 L87.9,41.7 L88.4,42.4 L89.0,43.1 L89.5,43.8 L90.1,44.5 L90.6,45.3 L91.2,46.0 L91.8,46.7 L92.3,47.4 L92.9,48.1 L93.4,48.8 L94.0,49.4 L94.5,50.0 L95.1,50.6 L95.7,51.2 L96.2,51.8 L96.8,52.3 L97.3,52.8 L97.9,53.3 L98.4,53.8 L99.0,54.2 L99.5,54.6 L100.1,55.1 L100.7,55.5 L101.2,55.8 L101.8,56.2 L102.3,56.6 L102.9,56.9 L103.4,57.3 L104.0,57.6 L104.6,57.9 L105.1,58.2 L105.7,58.5 L106.2,58.8 L106.8,59.1 L107.3,59.4 L107.9,59.7 L108.4,59.9 L109.0,60.2 L109.6,60.5 L110.1,60.8 L110.7,61.0 L111.2,61.3 L111.8,61.6 L112.3,61.8 L112.9,62.1 L113.5,62.3 L114.0,62.6 L114.6,62.9 L115.1,63.1 L115.7,63.4 L116.2,63.6 L116.8,63.9 L117.3,64.1 L117.9,64.4 L118.5,64.6 L119.0,64.9 L119.6,65.1 L120.1,65.4 L120.7,65.6 L121.2,65.8 L121.8,66.1 L122.3,66.3 L122.9,66.5 L123.5,66.8 L124.0,67.0 L124.6,67.2 L125.1,67.5 L125.7,67.7 L126.2,67.9 L126.8,68.1 L127.4,68.3 L127.9,68.6 L128.5,68.8 L129.0,69.0 L129.6,69.2 L130.1,69.4 L130.7,69.6 L131.2,69.8 L131.8,70.0 L132.4,70.3 L132.9,70.5 L133.5,70.7 L134.0,70.9 L134.6,71.1 L135.1,71.3 L135.7,71.5 L136.3,71.7 L136.8,71.9 L137.4,72.0 L137.9,72.2 L138.5,72.4 L139.0,72.6 L139.6,72.8 L140.2,73.0 L140.7,73.2 L141.3,73.4 L141.8,73.5 L142.4,73.7 L142.9,73.9 L143.5,74.1 L144.0,74.3 L144.6,74.4 L145.2,74.6 L145.7,74.8 L146.3,75.0 L146.8,75.1 L147.4,75.3 L147.9,75.5 L148.5,75.6 L149.1,75.8 L149.6,76.0 L150.2,76.1 L150.7,76.3 L151.3,76.4 L151.8,76.6 L152.4,76.8 L152.9,76.9 L153.5,77.1 L154.1,77.2 L154.6,77.4 L155.2,77.5 L155.7,77.7 L156.3,77.8 L156.8,78.0 L157.4,78.1 L157.9,78.3 L158.5,78.4 L159.1,78.6 L159.6,78.7 L160.2,78.8 L160.7,79.0 L161.3,79.1 L161.8,79.3 L162.4,79.4 L163.0,79.5 L163.5,79.7 L164.1,79.8 L164.6,79.9 L165.2,80.1 L165.7,80.2 L166.3,80.3 L166.9,80.4 L167.4,80.6 L168.0,80.7 L168.5,80.8 L169.1,80.9 L169.6,81.1 L170.2,81.2 L170.7,81.3 L171.3,81.4 L171.9,81.6 L172.4,81.7 L173.0,81.8 L173.5,81.9 L174.1,82.0 L174.6,82.1 L175.2,82.2 L175.8,82.4 L176.3,82.5 L176.9,82.6 L177.4,82.7 L178.0,82.8 L178.5,82.9 L179.1,83.0 L179.6,83.1 L180.2,83.2 L180.8,83.3 L181.3,83.4 L181.9,83.5 L182.4,83.6 L183.0,83.7 L183.5,83.8 L184.1,83.9 L184.7,84.0 L185.2,84.1 L185.8,84.2 L186.3,84.3 L186.9,84.4 L187.4,84.5 L188.0,84.6 L188.5,84.7 L189.1,84.8 L189.7,84.9 L190.2,85.0 L190.8,85.1 L191.3,85.2 L191.9,85.3 L192.4,85.3 L193.0,85.4 L193.6,85.5 L194.1,85.6 L194.7,85.7 L195.2,85.8 L195.8,85.9 L196.3,85.9 L196.9,86.0 L197.4,86.1 L198.0,86.2" fill="none" stroke="#DE8F8A" stroke-width="1.65" stroke-linejoin="round"/><path d="M78.37,32.66V35.86M83.18,35.23V38.43M85.43,37.28V40.48M90.99,44.11V47.31M94.25,48.12V51.32M98.26,52.01V55.21M101.03,54.11V57.31M104.73,56.39V59.59M110.13,59.16V62.36M115.53,61.71V64.91M119.45,63.46V66.66M124.60,65.64V68.84M128.46,67.17V70.37M131.97,68.51V71.71M136.19,70.04V73.24M138.98,71.00V74.20M142.24,72.08V75.28M147.14,73.62V76.82M152.30,75.13V78.33M154.48,75.74V78.94M159.49,77.06V80.26M164.84,78.38V81.58M168.65,79.25V82.45M170.86,79.74V82.94M175.65,80.74V83.94M178.63,81.33V84.53M183.26,82.19V85.39M186.78,82.81V86.01M191.38,83.57V86.77M194.40,84.05V87.25M198.00,84.59V87.79" stroke="#DE8F8A" stroke-width="1"/>
<path d="M64.5,34.2 L65.1,34.2 L65.6,34.2 L66.2,34.2 L66.7,34.2 L67.3,34.2 L67.8,34.2 L68.4,34.2 L69.0,34.2 L69.5,34.2 L70.1,34.2 L70.6,34.2 L71.2,34.2 L71.7,34.2 L72.3,34.6 L72.8,35.0 L73.4,35.3 L74.0,35.7 L74.5,36.0 L75.1,36.4 L75.6,36.7 L76.2,37.0 L76.7,37.4 L77.3,37.8 L77.8,38.2 L78.4,38.7 L79.0,39.1 L79.5,39.6 L80.1,40.2 L80.6,40.8 L81.2,41.5 L81.7,42.2 L82.3,43.0 L82.9,43.8 L83.4,44.7 L84.0,45.7 L84.5,46.7 L85.1,47.7 L85.6,48.8 L86.2,49.9 L86.8,51.1 L87.3,52.3 L87.9,53.5 L88.4,54.8 L89.0,56.1 L89.5,57.4 L90.1,58.7 L90.6,60.1 L91.2,61.5 L91.8,62.9 L92.3,64.3 L92.9,65.6 L93.4,67.0 L94.0,68.4 L94.5,69.8 L95.1,71.1 L95.7,72.4 L96.2,73.7 L96.8,74.9 L97.3,76.0 L97.9,77.1 L98.4,78.1 L99.0,79.1 L99.5,80.0 L100.1,80.8 L100.7,81.6 L101.2,82.4 L101.8,83.1 L102.3,83.7 L102.9,84.4 L103.4,85.0 L104.0,85.6 L104.6,86.1 L105.1,86.7 L105.7,87.3 L106.2,87.8 L106.8,88.4 L107.3,89.0 L107.9,89.5 L108.4,90.1 L109.0,90.6 L109.6,91.2 L110.1,91.8 L110.7,92.3 L111.2,92.9 L111.8,93.4 L112.3,93.9 L112.9,94.5 L113.5,95.0 L114.0,95.6 L114.6,96.1 L115.1,96.6 L115.7,97.2 L116.2,97.7 L116.8,98.2 L117.3,98.7 L117.9,99.2 L118.5,99.8 L119.0,100.3 L119.6,100.8 L120.1,101.3 L120.7,101.8 L121.2,102.3 L121.8,102.8 L122.3,103.2 L122.9,103.7 L123.5,104.2 L124.0,104.7 L124.6,105.1 L125.1,105.6 L125.7,106.1 L126.2,106.5 L126.8,107.0 L127.4,107.4 L127.9,107.8 L128.5,108.3 L129.0,108.7 L129.6,109.1 L130.1,109.5 L130.7,109.9 L131.2,110.3 L131.8,110.7 L132.4,111.1 L132.9,111.5 L133.5,111.9 L134.0,112.3 L134.6,112.7 L135.1,113.0 L135.7,113.4 L136.3,113.7 L136.8,114.1 L137.4,114.5 L137.9,114.8 L138.5,115.1 L139.0,115.5 L139.6,115.8 L140.2,116.1 L140.7,116.5 L141.3,116.8 L141.8,117.1 L142.4,117.4 L142.9,117.7 L143.5,118.0 L144.0,118.3 L144.6,118.6 L145.2,118.9 L145.7,119.2 L146.3,119.5 L146.8,119.8 L147.4,120.0 L147.9,120.3 L148.5,120.6 L149.1,120.9 L149.6,121.1 L150.2,121.4 L150.7,121.6 L151.3,121.9 L151.8,122.1 L152.4,122.4 L152.9,122.6 L153.5,122.9 L154.1,123.1 L154.6,123.3 L155.2,123.5 L155.7,123.8 L156.3,124.0 L156.8,124.2 L157.4,124.4 L157.9,124.7 L158.5,124.9 L159.1,125.1 L159.6,125.3 L160.2,125.5 L160.7,125.7 L161.3,125.9 L161.8,126.1 L162.4,126.3 L163.0,126.5 L163.5,126.7 L164.1,126.8 L164.6,127.0 L165.2,127.2 L165.7,127.4 L166.3,127.6 L166.9,127.7 L167.4,127.9 L168.0,128.1 L168.5,128.3 L169.1,128.4 L169.6,128.6 L170.2,128.8 L170.7,128.9 L171.3,129.1 L171.9,129.3 L172.4,129.4 L173.0,129.6 L173.5,129.7 L174.1,129.9 L174.6,130.0 L175.2,130.2 L175.8,130.3 L176.3,130.5 L176.9,130.6 L177.4,130.8 L178.0,130.9 L178.5,131.1 L179.1,131.2 L179.6,131.3 L180.2,131.5 L180.8,131.6 L181.3,131.8 L181.9,131.9 L182.4,132.0 L183.0,132.2 L183.5,132.3 L184.1,132.5 L184.7,132.6 L185.2,132.7 L185.8,132.9 L186.3,133.0 L186.9,133.1 L187.4,133.3 L188.0,133.4 L188.5,133.5 L189.1,133.7 L189.7,133.8 L190.2,133.9 L190.8,134.1 L191.3,134.2 L191.9,134.3 L192.4,134.5 L193.0,134.6 L193.6,134.7 L194.1,134.9 L194.7,135.0 L195.2,135.2 L195.8,135.3 L196.3,135.4 L196.9,135.6 L197.4,135.7 L198.0,135.8" fill="none" stroke="#E08E12" stroke-width="1.65" stroke-linejoin="round"/><path d="M78.54,37.17V40.37M83.12,42.68V45.88M85.92,47.78V50.98M91.88,61.56V64.76M95.03,69.35V72.55M98.25,76.22V79.42M101.27,80.84V84.04M103.50,83.44V86.64M107.21,87.24V90.44M112.38,92.39V95.59M117.28,97.08V100.28M120.05,99.61V102.81M122.57,101.83V105.03M125.85,104.59V107.79M131.00,108.56V111.76M134.99,111.32V114.52M140.79,114.91V118.11M145.47,117.48V120.68M150.01,119.70V122.90M155.16,121.95V125.15M160.24,123.91V127.11M163.62,125.09V128.29M166.64,126.08V129.28M170.41,127.23V130.43M174.40,128.36V131.56M176.93,129.05V132.25M180.72,130.02V133.22M185.34,131.17V134.37M187.85,131.77V134.97M190.37,132.38V135.58M193.05,133.02V136.22M196.17,133.79V136.99M198.00,134.24V137.44" stroke="#E08E12" stroke-width="1"/>
<path d="M64.5,34.2 L65.1,34.2 L65.6,34.2 L66.2,34.2 L66.7,34.2 L67.3,34.2 L67.8,34.2 L68.4,34.2 L69.0,34.2 L69.5,34.2 L70.1,34.2 L70.6,34.2 L71.2,34.2 L71.7,34.2 L72.3,34.2 L72.8,34.2 L73.4,34.2 L74.0,34.2 L74.5,34.2 L75.1,34.2 L75.6,34.3 L76.2,34.3 L76.7,34.4 L77.3,34.6 L77.8,34.7 L78.4,34.9 L79.0,35.1 L79.5,35.3 L80.1,35.5 L80.6,35.8 L81.2,36.0 L81.7,36.3 L82.3,36.6 L82.9,36.9 L83.4,37.2 L84.0,37.5 L84.5,37.9 L85.1,38.2 L85.6,38.6 L86.2,38.9 L86.8,39.3 L87.3,39.6 L87.9,40.0 L88.4,40.4 L89.0,40.8 L89.5,41.1 L90.1,41.5 L90.6,41.9 L91.2,42.2 L91.8,42.6 L92.3,43.0 L92.9,43.3 L93.4,43.7 L94.0,44.0 L94.5,44.4 L95.1,44.7 L95.7,45.1 L96.2,45.4 L96.8,45.8 L97.3,46.1 L97.9,46.4 L98.4,46.8 L99.0,47.1 L99.5,47.4 L100.1,47.7 L100.7,48.0 L101.2,48.3 L101.8,48.7 L102.3,49.0 L102.9,49.3 L103.4,49.6 L104.0,49.9 L104.6,50.2 L105.1,50.5 L105.7,50.7 L106.2,51.0 L106.8,51.3 L107.3,51.6 L107.9,51.9 L108.4,52.2 L109.0,52.4 L109.6,52.7 L110.1,53.0 L110.7,53.2 L111.2,53.5 L111.8,53.7 L112.3,54.0 L112.9,54.3 L113.5,54.5 L114.0,54.8 L114.6,55.0 L115.1,55.2 L115.7,55.5 L116.2,55.7 L116.8,55.9 L117.3,56.2 L117.9,56.4 L118.5,56.6 L119.0,56.9 L119.6,57.1 L120.1,57.3 L120.7,57.5 L121.2,57.7 L121.8,57.9 L122.3,58.2 L122.9,58.4 L123.5,58.6 L124.0,58.8 L124.6,59.0 L125.1,59.2 L125.7,59.4 L126.2,59.6 L126.8,59.8 L127.4,59.9 L127.9,60.1 L128.5,60.3 L129.0,60.5 L129.6,60.7 L130.1,60.9 L130.7,61.0 L131.2,61.2 L131.8,61.4 L132.4,61.6 L132.9,61.7 L133.5,61.9 L134.0,62.1 L134.6,62.2 L135.1,62.4 L135.7,62.5 L136.3,62.7 L136.8,62.8 L137.4,63.0 L137.9,63.1 L138.5,63.3 L139.0,63.4 L139.6,63.6 L140.2,63.7 L140.7,63.9 L141.3,64.0 L141.8,64.2 L142.4,64.3 L142.9,64.4 L143.5,64.6 L144.0,64.7 L144.6,64.8 L145.2,65.0 L145.7,65.1 L146.3,65.2 L146.8,65.3 L147.4,65.5 L147.9,65.6 L148.5,65.7 L149.1,65.8 L149.6,65.9 L150.2,66.1 L150.7,66.2 L151.3,66.3 L151.8,66.4 L152.4,66.5 L152.9,66.6 L153.5,66.7 L154.1,66.8 L154.6,66.9 L155.2,67.0 L155.7,67.1 L156.3,67.2 L156.8,67.3 L157.4,67.4 L157.9,67.5 L158.5,67.6 L159.1,67.7 L159.6,67.8 L160.2,67.9 L160.7,68.0 L161.3,68.1 L161.8,68.2 L162.4,68.3 L163.0,68.4 L163.5,68.5 L164.1,68.6 L164.6,68.6 L165.2,68.7 L165.7,68.8 L166.3,68.9 L166.9,69.0 L167.4,69.1 L168.0,69.1 L168.5,69.2 L169.1,69.3 L169.6,69.4 L170.2,69.5 L170.7,69.5 L171.3,69.6 L171.9,69.7 L172.4,69.8 L173.0,69.8 L173.5,69.9 L174.1,70.0 L174.6,70.1 L175.2,70.1 L175.8,70.2 L176.3,70.3 L176.9,70.4 L177.4,70.4 L178.0,70.5 L178.5,70.6 L179.1,70.6 L179.6,70.7 L180.2,70.8 L180.8,70.8 L181.3,70.9 L181.9,71.0 L182.4,71.1 L183.0,71.1 L183.5,71.2 L184.1,71.3 L184.7,71.3 L185.2,71.4 L185.8,71.5 L186.3,71.5 L186.9,71.6 L187.4,71.7 L188.0,71.7 L188.5,71.8 L189.1,71.9 L189.7,71.9 L190.2,72.0 L190.8,72.1 L191.3,72.1 L191.9,72.2 L192.4,72.3 L193.0,72.3 L193.6,72.4 L194.1,72.5 L194.7,72.5 L195.2,72.6 L195.8,72.7 L196.3,72.7 L196.9,72.8 L197.4,72.9 L198.0,72.9" fill="none" stroke="#509ADB" stroke-width="1.65" stroke-linejoin="round"/><path d="M75.77,32.68V35.88M78.48,33.32V36.52M81.12,34.40V37.60M85.04,36.59V39.79M87.05,37.88V41.08M90.91,40.45V43.65M93.54,42.16V45.36M96.61,44.06V47.26M101.86,47.11V50.31M104.58,48.58V51.78M109.10,50.87V54.07M112.74,52.58V55.78M116.43,54.20V57.40M121.78,56.34V59.54M124.40,57.31V60.51M130.20,59.28V62.48M135.88,60.98V64.18M140.61,62.26V65.46M142.77,62.79V65.99M147.48,63.88V67.08M151.93,64.81V68.01M157.10,65.79V68.99M159.94,66.28V69.48M165.86,67.23V70.43M171.51,68.04V71.24M173.93,68.37V71.57M177.19,68.80V72.00M179.28,69.06V72.26M184.69,69.72V72.92M190.45,70.41V73.61M196.53,71.14V74.34M198.00,71.32V74.52" stroke="#509ADB" stroke-width="1"/>
<path d="M64.5,34.2 L65.1,34.2 L65.6,34.2 L66.2,34.2 L66.7,34.2 L67.3,34.2 L67.8,34.2 L68.4,34.2 L69.0,34.2 L69.5,34.2 L70.1,34.2 L70.6,34.2 L71.2,34.2 L71.7,34.5 L72.3,35.7 L72.8,36.9 L73.4,38.0 L74.0,39.1 L74.5,40.1 L75.1,41.0 L75.6,41.9 L76.2,42.8 L76.7,43.7 L77.3,44.6 L77.8,45.4 L78.4,46.3 L79.0,47.1 L79.5,48.0 L80.1,48.9 L80.6,49.8 L81.2,50.8 L81.7,51.8 L82.3,52.9 L82.9,54.1 L83.4,55.3 L84.0,56.6 L84.5,57.9 L85.1,59.4 L85.6,61.0 L86.2,62.6 L86.8,64.4 L87.3,66.3 L87.9,68.4 L88.4,70.5 L89.0,72.7 L89.5,75.0 L90.1,77.4 L90.6,79.8 L91.2,82.3 L91.8,84.7 L92.3,87.2 L92.9,89.6 L93.4,92.0 L94.0,94.3 L94.5,96.5 L95.1,98.5 L95.7,100.4 L96.2,102.2 L96.8,103.9 L97.3,105.5 L97.9,107.1 L98.4,108.6 L99.0,110.0 L99.5,111.4 L100.1,112.8 L100.7,114.1 L101.2,115.3 L101.8,116.4 L102.3,117.5 L102.9,118.5 L103.4,119.5 L104.0,120.5 L104.6,121.4 L105.1,122.3 L105.7,123.2 L106.2,124.1 L106.8,125.1 L107.3,126.0 L107.9,126.9 L108.4,127.8 L109.0,128.8 L109.6,129.7 L110.1,130.6 L110.7,131.5 L111.2,132.4 L111.8,133.3 L112.3,134.2 L112.9,135.1 L113.5,135.9 L114.0,136.8 L114.6,137.6 L115.1,138.3 L115.7,139.1 L116.2,139.8 L116.8,140.5 L117.3,141.2 L117.9,141.9 L118.5,142.5 L119.0,143.0 L119.6,143.6 L120.1,144.1 L120.7,144.7 L121.2,145.2 L121.8,145.6 L122.3,146.1 L122.9,146.6 L123.5,147.1 L124.0,147.5 L124.6,148.0 L125.1,148.4 L125.7,148.8 L126.2,149.3 L126.8,149.7 L127.4,150.1 L127.9,150.6 L128.5,151.0 L129.0,151.4 L129.6,151.8 L130.1,152.2 L130.7,152.6 L131.2,153.0 L131.8,153.4 L132.4,153.8 L132.9,154.1 L133.5,154.5 L134.0,154.9 L134.6,155.3 L135.1,155.6 L135.7,156.0 L136.3,156.3 L136.8,156.7 L137.4,157.0 L137.9,157.4 L138.5,157.7 L139.0,158.1 L139.6,158.4 L140.2,158.7 L140.7,159.0 L141.3,159.4 L141.8,159.7 L142.4,160.0 L142.9,160.3 L143.5,160.6 L144.0,160.9 L144.6,161.2 L145.2,161.5 L145.7,161.8 L146.3,162.1 L146.8,162.4 L147.4,162.7 L147.9,163.0 L148.5,163.2 L149.1,163.5 L149.6,163.8 L150.2,164.1 L150.7,164.3 L151.3,164.6 L151.8,164.9 L152.4,165.1 L152.9,165.4 L153.5,165.6 L154.1,165.9 L154.6,166.1 L155.2,166.4 L155.7,166.6 L156.3,166.9 L156.8,167.1 L157.4,167.3 L157.9,167.6 L158.5,167.8 L159.1,168.0 L159.6,168.3 L160.2,168.5 L160.7,168.7 L161.3,168.9 L161.8,169.2 L162.4,169.4 L163.0,169.6 L163.5,169.8 L164.1,170.0 L164.6,170.3 L165.2,170.5 L165.7,170.7 L166.3,170.9 L166.9,171.1 L167.4,171.3 L168.0,171.5 L168.5,171.7 L169.1,171.9 L169.6,172.1 L170.2,172.3 L170.7,172.5 L171.3,172.7 L171.9,172.9 L172.4,173.1 L173.0,173.3 L173.5,173.5 L174.1,173.7 L174.6,173.9 L175.2,174.1 L175.8,174.3 L176.3,174.5 L176.9,174.7 L177.4,174.9 L178.0,175.1 L178.5,175.3 L179.1,175.5 L179.6,175.7 L180.2,175.8 L180.8,176.0 L181.3,176.2 L181.9,176.4 L182.4,176.6 L183.0,176.8 L183.5,177.0 L184.1,177.2 L184.7,177.4 L185.2,177.6 L185.8,177.8 L186.3,178.0 L186.9,178.2 L187.4,178.3 L188.0,178.5 L188.5,178.7 L189.1,178.9 L189.7,179.1 L190.2,179.3 L190.8,179.5 L191.3,179.7 L191.9,179.9 L192.4,180.1 L193.0,180.3 L193.6,180.5 L194.1,180.7 L194.7,180.9 L195.2,181.1 L195.8,181.4 L196.3,181.6 L196.9,181.8 L197.4,182.0 L198.0,182.2" fill="none" stroke="#B80A30" stroke-width="1.65" stroke-linejoin="round"/><path d="M79.33,46.11V49.31M84.11,55.31V58.51M88.43,68.97V72.17M94.35,94.16V97.36M98.84,108.03V111.23M102.18,115.64V118.84M106.27,122.62V125.82M108.29,126.00V129.20M113.26,134.04V137.24M118.10,140.48V143.68M121.81,144.06V147.26M127.31,148.50V151.70M132.41,152.19V155.39M135.76,154.42V157.62M138.03,155.85V159.05M140.53,157.34V160.54M143.24,158.88V162.08M146.46,160.60V163.80M150.27,162.51V165.71M156.09,165.17V168.37M159.20,166.50V169.70M164.89,168.76V171.96M169.68,170.55V173.75M175.19,172.51V175.71M178.81,173.77V176.97M180.77,174.44V177.64M186.00,176.25V179.45M188.98,177.29V180.49M191.52,178.20V181.40M196.80,180.14V183.34M198.00,180.60V183.80" stroke="#B80A30" stroke-width="1"/>
<path d="M64.5,34.2 L65.1,34.2 L65.6,34.2 L66.2,34.2 L66.7,34.2 L67.3,34.2 L67.8,34.2 L68.4,34.2 L69.0,34.2 L69.5,34.2 L70.1,34.2 L70.6,34.2 L71.2,34.2 L71.7,34.4 L72.3,35.6 L72.8,36.7 L73.4,37.7 L74.0,38.7 L74.5,39.6 L75.1,40.5 L75.6,41.4 L76.2,42.2 L76.7,43.1 L77.3,43.9 L77.8,44.8 L78.4,45.6 L79.0,46.5 L79.5,47.3 L80.1,48.2 L80.6,49.2 L81.2,50.2 L81.7,51.2 L82.3,52.3 L82.9,53.4 L83.4,54.6 L84.0,55.9 L84.5,57.3 L85.1,58.8 L85.6,60.3 L86.2,62.0 L86.8,63.7 L87.3,65.6 L87.9,67.6 L88.4,69.7 L89.0,71.9 L89.5,74.1 L90.1,76.3 L90.6,78.6 L91.2,80.9 L91.8,83.2 L92.3,85.4 L92.9,87.6 L93.4,89.8 L94.0,91.9 L94.5,93.9 L95.1,95.8 L95.7,97.7 L96.2,99.5 L96.8,101.2 L97.3,102.8 L97.9,104.3 L98.4,105.8 L99.0,107.2 L99.5,108.5 L100.1,109.8 L100.7,111.0 L101.2,112.3 L101.8,113.4 L102.3,114.6 L102.9,115.7 L103.4,116.7 L104.0,117.7 L104.6,118.7 L105.1,119.7 L105.7,120.6 L106.2,121.6 L106.8,122.4 L107.3,123.3 L107.9,124.1 L108.4,124.9 L109.0,125.7 L109.6,126.5 L110.1,127.3 L110.7,128.0 L111.2,128.8 L111.8,129.5 L112.3,130.2 L112.9,130.9 L113.5,131.6 L114.0,132.3 L114.6,132.9 L115.1,133.6 L115.7,134.3 L116.2,134.9 L116.8,135.5 L117.3,136.2 L117.9,136.8 L118.5,137.4 L119.0,138.0 L119.6,138.5 L120.1,139.1 L120.7,139.7 L121.2,140.3 L121.8,140.8 L122.3,141.4 L122.9,141.9 L123.5,142.4 L124.0,142.9 L124.6,143.5 L125.1,144.0 L125.7,144.5 L126.2,145.0 L126.8,145.4 L127.4,145.9 L127.9,146.4 L128.5,146.9 L129.0,147.3 L129.6,147.8 L130.1,148.2 L130.7,148.7 L131.2,149.1 L131.8,149.6 L132.4,150.0 L132.9,150.4 L133.5,150.8 L134.0,151.2 L134.6,151.6 L135.1,152.0 L135.7,152.4 L136.3,152.8 L136.8,153.2 L137.4,153.6 L137.9,154.0 L138.5,154.3 L139.0,154.7 L139.6,155.1 L140.2,155.4 L140.7,155.8 L141.3,156.1 L141.8,156.5 L142.4,156.8 L142.9,157.1 L143.5,157.5 L144.0,157.8 L144.6,158.1 L145.2,158.4 L145.7,158.7 L146.3,159.0 L146.8,159.3 L147.4,159.6 L147.9,159.9 L148.5,160.2 L149.1,160.5 L149.6,160.8 L150.2,161.1 L150.7,161.4 L151.3,161.6 L151.8,161.9 L152.4,162.2 L152.9,162.4 L153.5,162.7 L154.1,162.9 L154.6,163.2 L155.2,163.4 L155.7,163.7 L156.3,163.9 L156.8,164.2 L157.4,164.4 L157.9,164.6 L158.5,164.9 L159.1,165.1 L159.6,165.3 L160.2,165.6 L160.7,165.8 L161.3,166.0 L161.8,166.2 L162.4,166.4 L163.0,166.6 L163.5,166.8 L164.1,167.1 L164.6,167.3 L165.2,167.5 L165.7,167.7 L166.3,167.9 L166.9,168.1 L167.4,168.3 L168.0,168.4 L168.5,168.6 L169.1,168.8 L169.6,169.0 L170.2,169.2 L170.7,169.4 L171.3,169.6 L171.9,169.8 L172.4,169.9 L173.0,170.1 L173.5,170.3 L174.1,170.5 L174.6,170.6 L175.2,170.8 L175.8,171.0 L176.3,171.2 L176.9,171.3 L177.4,171.5 L178.0,171.7 L178.5,171.8 L179.1,172.0 L179.6,172.2 L180.2,172.4 L180.8,172.5 L181.3,172.7 L181.9,172.9 L182.4,173.0 L183.0,173.2 L183.5,173.4 L184.1,173.5 L184.7,173.7 L185.2,173.9 L185.8,174.0 L186.3,174.2 L186.9,174.4 L187.4,174.5 L188.0,174.7 L188.5,174.9 L189.1,175.0 L189.7,175.2 L190.2,175.4 L190.8,175.5 L191.3,175.7 L191.9,175.9 L192.4,176.0 L193.0,176.2 L193.6,176.4 L194.1,176.6 L194.7,176.7 L195.2,176.9 L195.8,177.1 L196.3,177.3 L196.9,177.4 L197.4,177.6 L198.0,177.8" fill="none" stroke="#233F7E" stroke-width="1.65" stroke-linejoin="round"/><path d="M76.81,41.59V44.79M79.87,46.31V49.51M85.73,59.00V62.20M88.80,69.59V72.79M93.68,89.13V92.33M96.17,97.76V100.96M101.51,111.29V114.49M103.95,116.06V119.26M108.05,122.77V125.97M110.14,125.73V128.93M114.39,131.14V134.34M119.87,137.26V140.46M122.16,139.57V142.77M125.26,142.48V145.68M130.39,146.84V150.04M134.88,150.25V153.45M138.13,152.50V155.70M142.70,155.39V158.59M146.54,157.58V160.78M152.09,160.42V163.62M155.26,161.88V165.08M160.36,164.03V167.23M164.96,165.78V168.98M170.00,167.54V170.74M173.52,168.69V171.89M178.49,170.24V173.44M183.36,171.70V174.90M186.92,172.76V175.96M188.98,173.38V176.58M194.94,175.22V178.42M198.00,176.21V179.41" stroke="#233F7E" stroke-width="1"/>
</g>
<g transform="translate(212.8,267.2)">
<text x="7.2" y="18.9" font-size="12.6" font-weight="bold">D</text>
<path d="M57.85,24.3V234.2H210.5" fill="none" stroke="#000" stroke-width="1.15"/>
<path d="M54.85,224.90H57.85M54.85,177.23H57.85M54.85,129.55H57.85M54.85,81.88H57.85M54.85,34.20H57.85M64.50,234.2V237.39999999999998M81.19,234.2V237.39999999999998M97.88,234.2V237.39999999999998M114.56,234.2V237.39999999999998M131.25,234.2V237.39999999999998M147.94,234.2V237.39999999999998M164.62,234.2V237.39999999999998M181.31,234.2V237.39999999999998M198.00,234.2V237.39999999999998" stroke="#000" stroke-width="1.1"/>
<text x="51.3" y="228.00" font-size="8.8" text-anchor="end" fill="#1a1a1a" stroke="#1a1a1a" stroke-width="0.15">0.00</text>
<text x="51.3" y="180.33" font-size="8.8" text-anchor="end" fill="#1a1a1a" stroke="#1a1a1a" stroke-width="0.15">0.25</text>
<text x="51.3" y="132.65" font-size="8.8" text-anchor="end" fill="#1a1a1a" stroke="#1a1a1a" stroke-width="0.15">0.50</text>
<text x="51.3" y="84.98" font-size="8.8" text-anchor="end" fill="#1a1a1a" stroke="#1a1a1a" stroke-width="0.15">0.75</text>
<text x="51.3" y="37.30" font-size="8.8" text-anchor="end" fill="#1a1a1a" stroke="#1a1a1a" stroke-width="0.15">1.00</text>
<text x="64.50" y="248.6" font-size="8.8" text-anchor="middle" fill="#1a1a1a" stroke="#1a1a1a" stroke-width="0.15">0</text>
<text x="81.19" y="248.6" font-size="8.8" text-anchor="middle" fill="#1a1a1a" stroke="#1a1a1a" stroke-width="0.15">3</text>
<text x="97.88" y="248.6" font-size="8.8" text-anchor="middle" fill="#1a1a1a" stroke="#1a1a1a" stroke-width="0.15">6</text>
<text x="114.56" y="248.6" font-size="8.8" text-anchor="middle" fill="#1a1a1a" stroke="#1a1a1a" stroke-width="0.15">9</text>
<text x="131.25" y="248.6" font-size="8.8" text-anchor="middle" fill="#1a1a1a" stroke="#1a1a1a" stroke-width="0.15">12</text>
<text x="147.94" y="248.6" font-size="8.8" text-anchor="middle" fill="#1a1a1a" stroke="#1a1a1a" stroke-width="0.15">15</text>
<text x="164.62" y="248.6" font-size="8.8" text-anchor="middle" fill="#1a1a1a" stroke="#1a1a1a" stroke-width="0.15">18</text>
<text x="181.31" y="248.6" font-size="8.8" text-anchor="middle" fill="#1a1a1a" stroke="#1a1a1a" stroke-width="0.15">21</text>
<text x="198.00" y="248.6" font-size="8.8" text-anchor="middle" fill="#1a1a1a" stroke="#1a1a1a" stroke-width="0.15">24</text>
<text x="134.2" y="262.4" font-size="10" text-anchor="middle" textLength="45.3" lengthAdjust="spacingAndGlyphs" stroke="#000" stroke-width="0.35">Time (months)</text>
<text transform="translate(28.3,129.4) rotate(-90)" x="0" y="0" font-size="9.7" text-anchor="middle" textLength="58.6" lengthAdjust="spacingAndGlyphs" stroke="#000" stroke-width="0.4">Survival probability</text>
<path d="M64.5,34.2 L65.1,34.2 L65.6,34.2 L66.2,34.2 L66.7,34.2 L67.3,34.2 L67.8,34.2 L68.4,34.2 L69.0,34.2 L69.5,34.2 L70.1,34.2 L70.6,34.2 L71.2,34.2 L71.7,34.2 L72.3,34.2 L72.8,34.2 L73.4,34.5 L74.0,34.8 L74.5,35.0 L75.1,35.3 L75.6,35.5 L76.2,35.7 L76.7,35.9 L77.3,36.1 L77.8,36.3 L78.4,36.5 L79.0,36.8 L79.5,37.1 L80.1,37.4 L80.6,37.8 L81.2,38.3 L81.7,38.8 L82.3,39.4 L82.9,40.1 L83.4,40.9 L84.0,41.7 L84.5,42.5 L85.1,43.4 L85.6,44.3 L86.2,45.3 L86.8,46.3 L87.3,47.3 L87.9,48.3 L88.4,49.4 L89.0,50.4 L89.5,51.5 L90.1,52.5 L90.6,53.5 L91.2,54.5 L91.8,55.5 L92.3,56.4 L92.9,57.4 L93.4,58.3 L94.0,59.2 L94.5,60.0 L95.1,60.9 L95.7,61.7 L96.2,62.5 L96.8,63.3 L97.3,64.1 L97.9,64.8 L98.4,65.5 L99.0,66.3 L99.5,67.0 L100.1,67.6 L100.7,68.3 L101.2,69.0 L101.8,69.6 L102.3,70.3 L102.9,70.9 L103.4,71.5 L104.0,72.1 L104.6,72.7 L105.1,73.2 L105.7,73.8 L106.2,74.4 L106.8,74.9 L107.3,75.4 L107.9,76.0 L108.4,76.5 L109.0,77.0 L109.6,77.5 L110.1,78.0 L110.7,78.4 L111.2,78.9 L111.8,79.4 L112.3,79.8 L112.9,80.3 L113.5,80.7 L114.0,81.1 L114.6,81.5 L115.1,82.0 L115.7,82.4 L116.2,82.8 L116.8,83.1 L117.3,83.5 L117.9,83.9 L118.5,84.3 L119.0,84.6 L119.6,85.0 L120.1,85.3 L120.7,85.7 L121.2,86.0 L121.8,86.3 L122.3,86.7 L122.9,87.0 L123.5,87.3 L124.0,87.6 L124.6,87.9 L125.1,88.2 L125.7,88.5 L126.2,88.8 L126.8,89.1 L127.4,89.4 L127.9,89.7 L128.5,90.0 L129.0,90.2 L129.6,90.5 L130.1,90.8 L130.7,91.0 L131.2,91.3 L131.8,91.5 L132.4,91.8 L132.9,92.1 L133.5,92.3 L134.0,92.6 L134.6,92.8 L135.1,93.1 L135.7,93.3 L136.3,93.5 L136.8,93.8 L137.4,94.0 L137.9,94.3 L138.5,94.5 L139.0,94.8 L139.6,95.0 L140.2,95.2 L140.7,95.5 L141.3,95.7 L141.8,96.0 L142.4,96.2 L142.9,96.4 L143.5,96.7 L144.0,96.9 L144.6,97.1 L145.2,97.4 L145.7,97.6 L146.3,97.8 L146.8,98.1 L147.4,98.3 L147.9,98.5 L148.5,98.8 L149.1,99.0 L149.6,99.2 L150.2,99.4 L150.7,99.7 L151.3,99.9 L151.8,100.1 L152.4,100.3 L152.9,100.6 L153.5,100.8 L154.1,101.0 L154.6,101.2 L155.2,101.5 L155.7,101.7 L156.3,101.9 L156.8,102.1 L157.4,102.3 L157.9,102.5 L158.5,102.8 L159.1,103.0 L159.6,103.2 L160.2,103.4 L160.7,103.6 L161.3,103.8 L161.8,104.0 L162.4,104.2 L163.0,104.4 L163.5,104.7 L164.1,104.9 L164.6,105.1 L165.2,105.3 L165.7,105.5 L166.3,105.7 L166.9,105.9 L167.4,106.1 L168.0,106.3 L168.5,106.5 L169.1,106.7 L169.6,106.8 L170.2,107.0 L170.7,107.2 L171.3,107.4 L171.9,107.6 L172.4,107.8 L173.0,108.0 L173.5,108.2 L174.1,108.4 L174.6,108.5 L175.2,108.7 L175.8,108.9 L176.3,109.1 L176.9,109.3 L177.4,109.4 L178.0,109.6 L178.5,109.8 L179.1,110.0 L179.6,110.1 L180.2,110.3 L180.8,110.5 L181.3,110.6 L181.9,110.8 L182.4,111.0 L183.0,111.1 L183.5,111.3 L184.1,111.5 L184.7,111.6 L185.2,111.8 L185.8,111.9 L186.3,112.1 L186.9,112.2 L187.4,112.4 L188.0,112.5 L188.5,112.7 L189.1,112.8 L189.7,113.0 L190.2,113.1 L190.8,113.3 L191.3,113.4 L191.9,113.6 L192.4,113.7 L193.0,113.8 L193.6,114.0 L194.1,114.1 L194.7,114.2 L195.2,114.4 L195.8,114.5 L196.3,114.6 L196.9,114.7 L197.4,114.9 L198.0,115.0" fill="none" stroke="#E9BB22" stroke-width="1.65" stroke-linejoin="round"/><path d="M76.76,34.26V37.46M81.76,37.26V40.46M84.87,41.46V44.66M88.77,48.45V51.65M94.31,58.08V61.28M98.12,63.54V66.74M101.27,67.45V70.65M104.49,71.01V74.21M106.76,73.30V76.50M109.62,75.94V79.14M112.70,78.52V81.72M115.37,80.54V83.74M117.58,82.09V85.29M121.47,84.56V87.76M124.31,86.18V89.38M129.34,88.78V91.98M135.14,91.45V94.65M138.22,92.80V96.00M142.56,94.67V97.87M146.62,96.38V99.58M148.88,97.32V100.52M151.35,98.33V101.53M156.98,100.57V103.77M160.91,102.08V105.28M166.21,104.04V107.24M168.44,104.83V108.03M172.87,106.35V109.55M178.42,108.16V111.36M183.99,109.83V113.03M185.96,110.39V113.59M190.08,111.50V114.70M193.57,112.37V115.57M198.00,113.39V116.59" stroke="#E9BB22" stroke-width="1"/>
<path d="M64.5,34.2 L65.1,34.2 L65.6,34.2 L66.2,34.2 L66.7,34.2 L67.3,34.2 L67.8,34.2 L68.4,34.2 L69.0,34.2 L69.5,34.2 L70.1,34.2 L70.6,34.2 L71.2,34.2 L71.7,34.2 L72.3,34.2 L72.8,34.2 L73.4,34.3 L74.0,34.5 L74.5,34.6 L75.1,34.8 L75.6,34.9 L76.2,35.1 L76.7,35.3 L77.3,35.5 L77.8,35.8 L78.4,36.1 L79.0,36.4 L79.5,36.7 L80.1,37.1 L80.6,37.5 L81.2,38.0 L81.7,38.5 L82.3,39.1 L82.9,39.6 L83.4,40.3 L84.0,40.9 L84.5,41.7 L85.1,42.4 L85.6,43.2 L86.2,44.0 L86.8,44.8 L87.3,45.6 L87.9,46.5 L88.4,47.4 L89.0,48.3 L89.5,49.2 L90.1,50.1 L90.6,51.0 L91.2,52.0 L91.8,52.9 L92.3,53.9 L92.9,54.8 L93.4,55.7 L94.0,56.6 L94.5,57.6 L95.1,58.5 L95.7,59.3 L96.2,60.2 L96.8,61.0 L97.3,61.8 L97.9,62.6 L98.4,63.3 L99.0,64.1 L99.5,64.7 L100.1,65.4 L100.7,66.0 L101.2,66.6 L101.8,67.2 L102.3,67.8 L102.9,68.3 L103.4,68.9 L104.0,69.4 L104.6,69.9 L105.1,70.4 L105.7,71.0 L106.2,71.5 L106.8,72.0 L107.3,72.5 L107.9,72.9 L108.4,73.4 L109.0,73.9 L109.6,74.3 L110.1,74.8 L110.7,75.2 L111.2,75.7 L111.8,76.1 L112.3,76.6 L112.9,77.0 L113.5,77.4 L114.0,77.8 L114.6,78.2 L115.1,78.6 L115.7,79.0 L116.2,79.4 L116.8,79.8 L117.3,80.1 L117.9,80.5 L118.5,80.9 L119.0,81.2 L119.6,81.6 L120.1,82.0 L120.7,82.3 L121.2,82.6 L121.8,83.0 L122.3,83.3 L122.9,83.6 L123.5,84.0 L124.0,84.3 L124.6,84.6 L125.1,84.9 L125.7,85.2 L126.2,85.5 L126.8,85.8 L127.4,86.1 L127.9,86.4 L128.5,86.7 L129.0,87.0 L129.6,87.3 L130.1,87.6 L130.7,87.9 L131.2,88.2 L131.8,88.4 L132.4,88.7 L132.9,89.0 L133.5,89.2 L134.0,89.5 L134.6,89.8 L135.1,90.0 L135.7,90.3 L136.3,90.6 L136.8,90.8 L137.4,91.1 L137.9,91.3 L138.5,91.6 L139.0,91.8 L139.6,92.1 L140.2,92.3 L140.7,92.6 L141.3,92.8 L141.8,93.1 L142.4,93.3 L142.9,93.6 L143.5,93.8 L144.0,94.1 L144.6,94.3 L145.2,94.5 L145.7,94.8 L146.3,95.0 L146.8,95.3 L147.4,95.5 L147.9,95.7 L148.5,96.0 L149.1,96.2 L149.6,96.4 L150.2,96.6 L150.7,96.9 L151.3,97.1 L151.8,97.3 L152.4,97.5 L152.9,97.8 L153.5,98.0 L154.1,98.2 L154.6,98.4 L155.2,98.6 L155.7,98.9 L156.3,99.1 L156.8,99.3 L157.4,99.5 L157.9,99.7 L158.5,99.9 L159.1,100.1 L159.6,100.3 L160.2,100.5 L160.7,100.7 L161.3,100.9 L161.8,101.1 L162.4,101.3 L163.0,101.5 L163.5,101.7 L164.1,101.9 L164.6,102.1 L165.2,102.3 L165.7,102.5 L166.3,102.6 L166.9,102.8 L167.4,103.0 L168.0,103.2 L168.5,103.4 L169.1,103.6 L169.6,103.7 L170.2,103.9 L170.7,104.1 L171.3,104.2 L171.9,104.4 L172.4,104.6 L173.0,104.8 L173.5,104.9 L174.1,105.1 L174.6,105.2 L175.2,105.4 L175.8,105.6 L176.3,105.7 L176.9,105.9 L177.4,106.0 L178.0,106.2 L178.5,106.3 L179.1,106.5 L179.6,106.6 L180.2,106.8 L180.8,106.9 L181.3,107.0 L181.9,107.2 L182.4,107.3 L183.0,107.5 L183.5,107.6 L184.1,107.7 L184.7,107.9 L185.2,108.0 L185.8,108.1 L186.3,108.2 L186.9,108.4 L187.4,108.5 L188.0,108.6 L188.5,108.7 L189.1,108.8 L189.7,108.9 L190.2,109.1 L190.8,109.2 L191.3,109.3 L191.9,109.4 L192.4,109.5 L193.0,109.6 L193.6,109.7 L194.1,109.8 L194.7,109.9 L195.2,110.0 L195.8,110.1 L196.3,110.2 L196.9,110.2 L197.4,110.3 L198.0,110.4" fill="none" stroke="#63AC40" stroke-width="1.65" stroke-linejoin="round"/><path d="M76.03,33.46V36.66M79.08,34.87V38.07M84.42,39.92V43.12M88.33,45.63V48.83M92.16,52.01V55.21M98.15,61.37V64.57M101.43,65.24V68.44M103.55,67.37V70.57M107.14,70.68V73.88M109.72,72.88V76.08M112.01,74.70V77.90M116.33,77.86V81.06M122.25,81.66V84.86M126.62,84.14V87.34M131.26,86.56V89.76M134.56,88.16V91.36M138.89,90.17V93.37M143.98,92.44V95.64M148.38,94.31V97.51M153.68,96.46V99.66M157.92,98.09V101.29M160.69,99.11V102.31M165.07,100.64V103.84M169.07,101.95V105.15M171.71,102.77V105.97M176.24,104.10V107.30M181.59,105.52V108.72M184.10,106.13V109.33M188.32,107.07V110.27M193.33,108.05V111.25M196.96,108.66V111.86M198.00,108.82V112.02" stroke="#63AC40" stroke-width="1"/>
<path d="M64.5,34.2 L65.1,34.2 L65.6,34.2 L66.2,34.2 L66.7,34.2 L67.3,34.2 L67.8,34.2 L68.4,34.2 L69.0,34.2 L69.5,34.2 L70.1,34.2 L70.6,34.2 L71.2,34.2 L71.7,34.2 L72.3,34.2 L72.8,34.2 L73.4,34.3 L74.0,34.4 L74.5,34.5 L75.1,34.7 L75.6,34.9 L76.2,35.1 L76.7,35.3 L77.3,35.6 L77.8,35.9 L78.4,36.2 L79.0,36.6 L79.5,37.0 L80.1,37.4 L80.6,37.9 L81.2,38.4 L81.7,39.0 L82.3,39.6 L82.9,40.2 L83.4,40.9 L84.0,41.6 L84.5,42.4 L85.1,43.2 L85.6,44.0 L86.2,44.8 L86.8,45.7 L87.3,46.6 L87.9,47.5 L88.4,48.4 L89.0,49.3 L89.5,50.2 L90.1,51.2 L90.6,52.1 L91.2,53.1 L91.8,54.1 L92.3,55.0 L92.9,55.9 L93.4,56.9 L94.0,57.8 L94.5,58.7 L95.1,59.6 L95.7,60.5 L96.2,61.4 L96.8,62.2 L97.3,63.0 L97.9,63.8 L98.4,64.5 L99.0,65.3 L99.5,66.0 L100.1,66.6 L100.7,67.3 L101.2,67.9 L101.8,68.5 L102.3,69.1 L102.9,69.6 L103.4,70.2 L104.0,70.7 L104.6,71.3 L105.1,71.8 L105.7,72.3 L106.2,72.8 L106.8,73.4 L107.3,73.9 L107.9,74.3 L108.4,74.8 L109.0,75.3 L109.6,75.8 L110.1,76.2 L110.7,76.7 L111.2,77.1 L111.8,77.6 L112.3,78.0 L112.9,78.4 L113.5,78.8 L114.0,79.2 L114.6,79.6 L115.1,80.0 L115.7,80.4 L116.2,80.8 L116.8,81.2 L117.3,81.6 L117.9,81.9 L118.5,82.3 L119.0,82.6 L119.6,83.0 L120.1,83.3 L120.7,83.7 L121.2,84.0 L121.8,84.3 L122.3,84.7 L122.9,85.0 L123.5,85.3 L124.0,85.6 L124.6,85.9 L125.1,86.2 L125.7,86.5 L126.2,86.8 L126.8,87.1 L127.4,87.4 L127.9,87.7 L128.5,88.0 L129.0,88.3 L129.6,88.5 L130.1,88.8 L130.7,89.1 L131.2,89.3 L131.8,89.6 L132.4,89.9 L132.9,90.1 L133.5,90.4 L134.0,90.7 L134.6,90.9 L135.1,91.2 L135.7,91.4 L136.3,91.7 L136.8,91.9 L137.4,92.2 L137.9,92.4 L138.5,92.7 L139.0,92.9 L139.6,93.1 L140.2,93.4 L140.7,93.6 L141.3,93.9 L141.8,94.1 L142.4,94.4 L142.9,94.6 L143.5,94.8 L144.0,95.1 L144.6,95.3 L145.2,95.5 L145.7,95.8 L146.3,96.0 L146.8,96.2 L147.4,96.5 L147.9,96.7 L148.5,96.9 L149.1,97.2 L149.6,97.4 L150.2,97.6 L150.7,97.9 L151.3,98.1 L151.8,98.3 L152.4,98.5 L152.9,98.7 L153.5,99.0 L154.1,99.2 L154.6,99.4 L155.2,99.6 L155.7,99.8 L156.3,100.1 L156.8,100.3 L157.4,100.5 L157.9,100.7 L158.5,100.9 L159.1,101.1 L159.6,101.3 L160.2,101.5 L160.7,101.8 L161.3,102.0 L161.8,102.2 L162.4,102.4 L163.0,102.6 L163.5,102.8 L164.1,103.0 L164.6,103.2 L165.2,103.4 L165.7,103.6 L166.3,103.8 L166.9,104.0 L167.4,104.2 L168.0,104.4 L168.5,104.5 L169.1,104.7 L169.6,104.9 L170.2,105.1 L170.7,105.3 L171.3,105.5 L171.9,105.7 L172.4,105.9 L173.0,106.1 L173.5,106.2 L174.1,106.4 L174.6,106.6 L175.2,106.8 L175.8,107.0 L176.3,107.1 L176.9,107.3 L177.4,107.5 L178.0,107.7 L178.5,107.8 L179.1,108.0 L179.6,108.2 L180.2,108.3 L180.8,108.5 L181.3,108.7 L181.9,108.8 L182.4,109.0 L183.0,109.2 L183.5,109.3 L184.1,109.5 L184.7,109.6 L185.2,109.8 L185.8,110.0 L186.3,110.1 L186.9,110.3 L187.4,110.4 L188.0,110.6 L188.5,110.7 L189.1,110.9 L189.7,111.0 L190.2,111.2 L190.8,111.3 L191.3,111.5 L191.9,111.6 L192.4,111.7 L193.0,111.9 L193.6,112.0 L194.1,112.2 L194.7,112.3 L195.2,112.4 L195.8,112.6 L196.3,112.7 L196.9,112.8 L197.4,113.0 L198.0,113.1" fill="none" stroke="#DE8F8A" stroke-width="1.65" stroke-linejoin="round"/><path d="M77.70,34.20V37.40M81.90,37.54V40.74M86.71,44.02V47.22M90.99,51.15V54.35M93.39,55.22V58.42M98.75,63.36V66.56M104.55,69.68V72.88M106.92,71.88V75.08M109.90,74.45V77.65M112.58,76.57V79.77M118.07,80.44V83.64M123.81,83.90V87.10M125.94,85.07V88.27M129.28,86.78V89.98M132.03,88.12V91.32M135.93,89.92V93.12M141.72,92.48V95.68M143.96,93.44V96.64M146.62,94.56V97.76M150.60,96.20V99.40M154.74,97.85V101.05M159.79,99.80V103.00M163.57,101.19V104.39M166.10,102.10V105.30M169.52,103.29V106.49M175.57,105.30V108.50M180.65,106.87V110.07M183.08,107.59V110.79M188.40,109.09V112.29M191.64,109.94V113.14M196.85,111.23V114.43M198.00,111.49V114.69" stroke="#DE8F8A" stroke-width="1"/>
<path d="M64.5,34.2 L65.1,34.2 L65.6,34.2 L66.2,34.2 L66.7,34.2 L67.3,34.2 L67.8,34.2 L68.4,34.2 L69.0,34.2 L69.5,34.2 L70.1,34.2 L70.6,34.2 L71.2,34.2 L71.7,34.2 L72.3,34.2 L72.8,34.8 L73.4,35.4 L74.0,36.0 L74.5,36.7 L75.1,37.4 L75.6,38.1 L76.2,38.9 L76.7,39.8 L77.3,40.7 L77.8,41.6 L78.4,42.6 L79.0,43.7 L79.5,44.7 L80.1,45.7 L80.6,46.7 L81.2,47.7 L81.7,48.6 L82.3,49.6 L82.9,50.6 L83.4,51.7 L84.0,52.8 L84.5,54.0 L85.1,55.2 L85.6,56.6 L86.2,58.1 L86.8,59.7 L87.3,61.4 L87.9,63.2 L88.4,65.2 L89.0,67.3 L89.5,69.5 L90.1,71.7 L90.6,73.9 L91.2,76.2 L91.8,78.4 L92.3,80.6 L92.9,82.7 L93.4,84.7 L94.0,86.6 L94.5,88.3 L95.1,90.0 L95.7,91.5 L96.2,92.9 L96.8,94.3 L97.3,95.6 L97.9,96.9 L98.4,98.2 L99.0,99.4 L99.5,100.7 L100.1,102.0 L100.7,103.3 L101.2,104.6 L101.8,105.8 L102.3,107.1 L102.9,108.2 L103.4,109.3 L104.0,110.4 L104.6,111.4 L105.1,112.4 L105.7,113.3 L106.2,114.2 L106.8,115.1 L107.3,116.0 L107.9,116.8 L108.4,117.6 L109.0,118.4 L109.6,119.2 L110.1,120.0 L110.7,120.8 L111.2,121.6 L111.8,122.3 L112.3,123.1 L112.9,123.8 L113.5,124.5 L114.0,125.3 L114.6,126.0 L115.1,126.7 L115.7,127.3 L116.2,128.0 L116.8,128.7 L117.3,129.3 L117.9,130.0 L118.5,130.6 L119.0,131.2 L119.6,131.9 L120.1,132.5 L120.7,133.1 L121.2,133.7 L121.8,134.3 L122.3,134.8 L122.9,135.4 L123.5,136.0 L124.0,136.5 L124.6,137.1 L125.1,137.6 L125.7,138.1 L126.2,138.7 L126.8,139.2 L127.4,139.7 L127.9,140.2 L128.5,140.7 L129.0,141.2 L129.6,141.7 L130.1,142.1 L130.7,142.6 L131.2,143.1 L131.8,143.5 L132.4,144.0 L132.9,144.4 L133.5,144.9 L134.0,145.3 L134.6,145.7 L135.1,146.1 L135.7,146.6 L136.3,147.0 L136.8,147.4 L137.4,147.8 L137.9,148.2 L138.5,148.6 L139.0,149.0 L139.6,149.4 L140.2,149.8 L140.7,150.1 L141.3,150.5 L141.8,150.9 L142.4,151.3 L142.9,151.6 L143.5,152.0 L144.0,152.3 L144.6,152.7 L145.2,153.1 L145.7,153.4 L146.3,153.7 L146.8,154.1 L147.4,154.4 L147.9,154.7 L148.5,155.1 L149.1,155.4 L149.6,155.7 L150.2,156.0 L150.7,156.3 L151.3,156.7 L151.8,157.0 L152.4,157.3 L152.9,157.6 L153.5,157.9 L154.1,158.1 L154.6,158.4 L155.2,158.7 L155.7,159.0 L156.3,159.3 L156.8,159.6 L157.4,159.8 L157.9,160.1 L158.5,160.4 L159.1,160.6 L159.6,160.9 L160.2,161.1 L160.7,161.4 L161.3,161.6 L161.8,161.9 L162.4,162.1 L163.0,162.4 L163.5,162.6 L164.1,162.8 L164.6,163.1 L165.2,163.3 L165.7,163.5 L166.3,163.7 L166.9,163.9 L167.4,164.2 L168.0,164.4 L168.5,164.6 L169.1,164.8 L169.6,165.0 L170.2,165.2 L170.7,165.4 L171.3,165.6 L171.9,165.8 L172.4,166.0 L173.0,166.2 L173.5,166.3 L174.1,166.5 L174.6,166.7 L175.2,166.9 L175.8,167.1 L176.3,167.2 L176.9,167.4 L177.4,167.6 L178.0,167.7 L178.5,167.9 L179.1,168.0 L179.6,168.2 L180.2,168.4 L180.8,168.5 L181.3,168.7 L181.9,168.8 L182.4,169.0 L183.0,169.1 L183.5,169.2 L184.1,169.4 L184.7,169.5 L185.2,169.6 L185.8,169.8 L186.3,169.9 L186.9,170.0 L187.4,170.2 L188.0,170.3 L188.5,170.4 L189.1,170.5 L189.7,170.6 L190.2,170.7 L190.8,170.9 L191.3,171.0 L191.9,171.1 L192.4,171.2 L193.0,171.3 L193.6,171.4 L194.1,171.5 L194.7,171.6 L195.2,171.7 L195.8,171.8 L196.3,171.9 L196.9,172.0 L197.4,172.1 L198.0,172.2" fill="none" stroke="#E08E12" stroke-width="1.65" stroke-linejoin="round"/><path d="M80.47,44.80V48.00M83.10,49.48V52.68M86.94,58.65V61.85M91.65,76.38V79.58M95.72,90.07V93.27M98.35,96.42V99.62M100.88,102.20V105.40M104.02,108.84V112.04M106.18,112.56V115.76M109.03,116.87V120.07M111.52,120.37V123.57M115.41,125.41V128.61M118.84,129.45V132.65M123.24,134.14V137.34M126.35,137.16V140.36M128.44,139.06V142.26M131.77,141.89V145.09M136.87,145.83V149.03M139.88,147.98V151.18M143.52,150.41V153.61M148.61,153.54V156.74M152.26,155.59V158.79M157.90,158.47V161.67M163.68,161.06V164.26M166.92,162.38V165.58M171.94,164.21V167.41M174.94,165.20V168.40M177.47,165.98V169.18M181.25,167.04V170.24M185.71,168.16V171.36M191.56,169.42V172.62M194.11,169.90V173.10M198.00,170.56V173.76" stroke="#E08E12" stroke-width="1"/>
<path d="M64.5,34.2 L65.1,34.2 L65.6,34.2 L66.2,34.2 L66.7,34.2 L67.3,34.2 L67.8,34.2 L68.4,34.2 L69.0,34.2 L69.5,34.2 L70.1,34.2 L70.6,34.2 L71.2,34.2 L71.7,34.2 L72.3,34.2 L72.8,34.2 L73.4,34.2 L74.0,34.2 L74.5,34.2 L75.1,34.2 L75.6,34.3 L76.2,34.4 L76.7,34.6 L77.3,34.8 L77.8,35.1 L78.4,35.4 L79.0,35.7 L79.5,36.0 L80.1,36.4 L80.6,36.8 L81.2,37.2 L81.7,37.7 L82.3,38.2 L82.9,38.7 L83.4,39.3 L84.0,39.8 L84.5,40.4 L85.1,41.0 L85.6,41.6 L86.2,42.3 L86.8,42.9 L87.3,43.6 L87.9,44.2 L88.4,44.9 L89.0,45.5 L89.5,46.2 L90.1,46.8 L90.6,47.4 L91.2,48.1 L91.8,48.7 L92.3,49.3 L92.9,49.9 L93.4,50.5 L94.0,51.1 L94.5,51.6 L95.1,52.2 L95.7,52.7 L96.2,53.3 L96.8,53.8 L97.3,54.3 L97.9,54.9 L98.4,55.4 L99.0,55.9 L99.5,56.4 L100.1,56.9 L100.7,57.4 L101.2,57.8 L101.8,58.3 L102.3,58.8 L102.9,59.2 L103.4,59.7 L104.0,60.1 L104.6,60.6 L105.1,61.0 L105.7,61.5 L106.2,61.9 L106.8,62.3 L107.3,62.8 L107.9,63.2 L108.4,63.6 L109.0,64.0 L109.6,64.4 L110.1,64.8 L110.7,65.2 L111.2,65.6 L111.8,66.0 L112.3,66.4 L112.9,66.8 L113.5,67.1 L114.0,67.5 L114.6,67.9 L115.1,68.2 L115.7,68.6 L116.2,68.9 L116.8,69.3 L117.3,69.6 L117.9,70.0 L118.5,70.3 L119.0,70.7 L119.6,71.0 L120.1,71.3 L120.7,71.6 L121.2,72.0 L121.8,72.3 L122.3,72.6 L122.9,72.9 L123.5,73.2 L124.0,73.5 L124.6,73.8 L125.1,74.1 L125.7,74.4 L126.2,74.7 L126.8,74.9 L127.4,75.2 L127.9,75.5 L128.5,75.8 L129.0,76.0 L129.6,76.3 L130.1,76.6 L130.7,76.8 L131.2,77.1 L131.8,77.3 L132.4,77.6 L132.9,77.8 L133.5,78.1 L134.0,78.3 L134.6,78.5 L135.1,78.8 L135.7,79.0 L136.3,79.2 L136.8,79.5 L137.4,79.7 L137.9,79.9 L138.5,80.1 L139.0,80.3 L139.6,80.5 L140.2,80.8 L140.7,81.0 L141.3,81.2 L141.8,81.4 L142.4,81.6 L142.9,81.8 L143.5,81.9 L144.0,82.1 L144.6,82.3 L145.2,82.5 L145.7,82.7 L146.3,82.9 L146.8,83.1 L147.4,83.2 L147.9,83.4 L148.5,83.6 L149.1,83.7 L149.6,83.9 L150.2,84.1 L150.7,84.2 L151.3,84.4 L151.8,84.6 L152.4,84.7 L152.9,84.9 L153.5,85.0 L154.1,85.2 L154.6,85.3 L155.2,85.5 L155.7,85.6 L156.3,85.8 L156.8,85.9 L157.4,86.1 L157.9,86.2 L158.5,86.3 L159.1,86.5 L159.6,86.6 L160.2,86.7 L160.7,86.9 L161.3,87.0 L161.8,87.1 L162.4,87.3 L163.0,87.4 L163.5,87.5 L164.1,87.6 L164.6,87.8 L165.2,87.9 L165.7,88.0 L166.3,88.1 L166.9,88.2 L167.4,88.3 L168.0,88.5 L168.5,88.6 L169.1,88.7 L169.6,88.8 L170.2,88.9 L170.7,89.0 L171.3,89.1 L171.9,89.2 L172.4,89.4 L173.0,89.5 L173.5,89.6 L174.1,89.7 L174.6,89.8 L175.2,89.9 L175.8,90.0 L176.3,90.1 L176.9,90.2 L177.4,90.3 L178.0,90.4 L178.5,90.5 L179.1,90.6 L179.6,90.7 L180.2,90.8 L180.8,90.9 L181.3,91.0 L181.9,91.1 L182.4,91.2 L183.0,91.3 L183.5,91.4 L184.1,91.5 L184.7,91.6 L185.2,91.7 L185.8,91.8 L186.3,91.9 L186.9,92.0 L187.4,92.1 L188.0,92.2 L188.5,92.3 L189.1,92.4 L189.7,92.5 L190.2,92.6 L190.8,92.7 L191.3,92.8 L191.9,92.9 L192.4,93.0 L193.0,93.1 L193.6,93.2 L194.1,93.3 L194.7,93.4 L195.2,93.5 L195.8,93.6 L196.3,93.7 L196.9,93.9 L197.4,94.0 L198.0,94.1" fill="none" stroke="#509ADB" stroke-width="1.65" stroke-linejoin="round"/><path d="M78.27,33.69V36.89M80.77,35.31V38.51M86.77,41.33V44.53M91.62,46.93V50.13M94.10,49.58V52.78M99.83,55.03V58.23M102.21,57.08V60.28M104.54,58.99V62.19M107.87,61.57V64.77M113.73,65.72V68.92M115.82,67.08V70.28M121.59,70.56V73.76M126.09,72.98V76.18M128.32,74.09V77.29M132.64,76.10V79.30M136.50,77.73V80.93M140.80,79.39V82.59M145.82,81.13V84.33M150.60,82.61V85.81M156.71,84.28V87.48M159.31,84.93V88.13M164.64,86.16V89.36M168.31,86.93V90.13M173.52,87.97V91.17M179.19,89.03V92.23M185.27,90.12V93.32M188.33,90.67V93.87M192.17,91.37V94.57M198.00,92.47V95.67" stroke="#509ADB" stroke-width="1"/>
<path d="M64.5,34.2 L65.1,34.2 L65.6,34.2 L66.2,34.2 L66.7,34.2 L67.3,34.2 L67.8,34.2 L68.4,34.2 L69.0,34.2 L69.5,34.2 L70.1,34.2 L70.6,34.2 L71.2,34.2 L71.7,34.2 L72.3,35.2 L72.8,37.1 L73.4,38.9 L74.0,40.6 L74.5,42.3 L75.1,43.9 L75.6,45.4 L76.2,47.0 L76.7,48.4 L77.3,49.9 L77.8,51.3 L78.4,52.7 L79.0,54.1 L79.5,55.6 L80.1,57.0 L80.6,58.4 L81.2,59.9 L81.7,61.4 L82.3,63.0 L82.9,64.6 L83.4,66.4 L84.0,68.3 L84.5,70.3 L85.1,72.7 L85.6,75.2 L86.2,78.1 L86.8,81.2 L87.3,84.3 L87.9,87.3 L88.4,90.3 L89.0,93.1 L89.5,96.0 L90.1,98.8 L90.6,101.8 L91.2,104.8 L91.8,108.0 L92.3,111.5 L92.9,115.1 L93.4,119.1 L94.0,123.2 L94.5,127.2 L95.1,130.6 L95.7,133.5 L96.2,135.9 L96.8,138.0 L97.3,140.0 L97.9,142.0 L98.4,144.0 L99.0,145.9 L99.5,147.8 L100.1,149.7 L100.7,151.4 L101.2,153.1 L101.8,154.7 L102.3,156.2 L102.9,157.6 L103.4,159.0 L104.0,160.3 L104.6,161.5 L105.1,162.6 L105.7,163.6 L106.2,164.7 L106.8,165.6 L107.3,166.5 L107.9,167.3 L108.4,168.1 L109.0,168.9 L109.6,169.6 L110.1,170.2 L110.7,170.8 L111.2,171.4 L111.8,172.0 L112.3,172.6 L112.9,173.1 L113.5,173.6 L114.0,174.1 L114.6,174.5 L115.1,175.0 L115.7,175.4 L116.2,175.9 L116.8,176.4 L117.3,176.8 L117.9,177.3 L118.5,177.8 L119.0,178.2 L119.6,178.7 L120.1,179.2 L120.7,179.7 L121.2,180.2 L121.8,180.7 L122.3,181.1 L122.9,181.6 L123.5,182.1 L124.0,182.6 L124.6,183.1 L125.1,183.6 L125.7,184.1 L126.2,184.6 L126.8,185.0 L127.4,185.5 L127.9,186.0 L128.5,186.4 L129.0,186.9 L129.6,187.4 L130.1,187.8 L130.7,188.2 L131.2,188.7 L131.8,189.1 L132.4,189.5 L132.9,189.9 L133.5,190.3 L134.0,190.7 L134.6,191.1 L135.1,191.5 L135.7,191.8 L136.3,192.2 L136.8,192.6 L137.4,192.9 L137.9,193.3 L138.5,193.6 L139.0,193.9 L139.6,194.3 L140.2,194.6 L140.7,194.9 L141.3,195.2 L141.8,195.6 L142.4,195.9 L142.9,196.2 L143.5,196.4 L144.0,196.7 L144.6,197.0 L145.2,197.3 L145.7,197.6 L146.3,197.8 L146.8,198.1 L147.4,198.3 L147.9,198.6 L148.5,198.8 L149.1,199.1 L149.6,199.3 L150.2,199.6 L150.7,199.8 L151.3,200.0 L151.8,200.2 L152.4,200.4 L152.9,200.7 L153.5,200.9 L154.1,201.1 L154.6,201.3 L155.2,201.5 L155.7,201.7 L156.3,201.8 L156.8,202.0 L157.4,202.2 L157.9,202.4 L158.5,202.6 L159.1,202.7 L159.6,202.9 L160.2,203.0 L160.7,203.2 L161.3,203.4 L161.8,203.5 L162.4,203.7 L163.0,203.8 L163.5,204.0 L164.1,204.1 L164.6,204.2 L165.2,204.4 L165.7,204.5 L166.3,204.6 L166.9,204.8 L167.4,204.9 L168.0,205.0 L168.5,205.1 L169.1,205.2 L169.6,205.4 L170.2,205.5 L170.7,205.6 L171.3,205.7 L171.9,205.8 L172.4,205.9 L173.0,206.0 L173.5,206.1 L174.1,206.2 L174.6,206.3 L175.2,206.4 L175.8,206.5 L176.3,206.6 L176.9,206.7 L177.4,206.8 L178.0,206.9 L178.5,206.9 L179.1,207.0 L179.6,207.1 L180.2,207.2 L180.8,207.3 L181.3,207.4 L181.9,207.5 L182.4,207.5 L183.0,207.6 L183.5,207.7 L184.1,207.8 L184.7,207.9 L185.2,207.9 L185.8,208.0 L186.3,208.1 L186.9,208.2 L187.4,208.3 L188.0,208.3 L188.5,208.4 L189.1,208.5 L189.7,208.6 L190.2,208.7 L190.8,208.7 L191.3,208.8 L191.9,208.9 L192.4,209.0 L193.0,209.1 L193.6,209.2 L194.1,209.2 L194.7,209.3 L195.2,209.4 L195.8,209.5 L196.3,209.6 L196.9,209.7 L197.4,209.8 L198.0,209.9" fill="none" stroke="#B80A30" stroke-width="1.65" stroke-linejoin="round"/><path d="M80.89,57.50V60.70M84.39,68.23V71.43M90.26,98.12V101.32M93.90,121.00V124.20M97.41,138.70V141.90M102.51,155.09V158.29M106.42,163.40V166.60M110.24,168.77V171.97M113.80,172.27V175.47M117.55,175.39V178.59M120.08,177.55V180.75M122.28,179.49V182.69M127.38,183.94V187.14M131.68,187.38V190.58M136.43,190.71V193.91M141.72,193.90V197.10M144.63,195.43V198.63M147.55,196.82V200.02M150.66,198.16V201.36M153.87,199.40V202.60M158.99,201.10V204.30M162.50,202.09V205.29M165.79,202.91V206.11M170.40,203.91V207.11M173.12,204.43V207.63M175.51,204.85V208.05M180.37,205.63V208.83M185.47,206.39V209.59M188.65,206.84V210.04M193.25,207.51V210.71M195.34,207.83V211.03M198.00,208.26V211.46" stroke="#B80A30" stroke-width="1"/>
<path d="M64.5,34.2 L65.1,34.2 L65.6,34.2 L66.2,34.2 L66.7,34.2 L67.3,34.2 L67.8,34.2 L68.4,34.2 L69.0,34.2 L69.5,34.2 L70.1,34.2 L70.6,34.2 L71.2,34.2 L71.7,34.2 L72.3,35.2 L72.8,37.0 L73.4,38.8 L74.0,40.4 L74.5,42.0 L75.1,43.5 L75.6,45.0 L76.2,46.4 L76.7,47.8 L77.3,49.2 L77.8,50.6 L78.4,51.9 L79.0,53.3 L79.5,54.7 L80.1,56.1 L80.6,57.6 L81.2,59.1 L81.7,60.7 L82.3,62.4 L82.9,64.1 L83.4,66.0 L84.0,67.9 L84.5,70.0 L85.1,72.3 L85.6,74.6 L86.2,77.2 L86.8,79.9 L87.3,82.7 L87.9,85.6 L88.4,88.5 L89.0,91.5 L89.5,94.5 L90.1,97.6 L90.6,100.7 L91.2,103.8 L91.8,107.0 L92.3,110.2 L92.9,113.4 L93.4,116.6 L94.0,119.9 L94.5,123.1 L95.1,126.1 L95.7,128.9 L96.2,131.4 L96.8,133.8 L97.3,136.0 L97.9,138.1 L98.4,139.9 L99.0,141.7 L99.5,143.3 L100.1,144.8 L100.7,146.3 L101.2,147.6 L101.8,148.9 L102.3,150.1 L102.9,151.2 L103.4,152.3 L104.0,153.4 L104.6,154.4 L105.1,155.4 L105.7,156.4 L106.2,157.3 L106.8,158.2 L107.3,159.1 L107.9,160.0 L108.4,160.8 L109.0,161.6 L109.6,162.5 L110.1,163.3 L110.7,164.0 L111.2,164.8 L111.8,165.6 L112.3,166.3 L112.9,167.0 L113.5,167.7 L114.0,168.4 L114.6,169.1 L115.1,169.8 L115.7,170.5 L116.2,171.1 L116.8,171.8 L117.3,172.4 L117.9,173.0 L118.5,173.6 L119.0,174.2 L119.6,174.8 L120.1,175.4 L120.7,175.9 L121.2,176.5 L121.8,177.0 L122.3,177.6 L122.9,178.1 L123.5,178.6 L124.0,179.1 L124.6,179.6 L125.1,180.1 L125.7,180.6 L126.2,181.1 L126.8,181.5 L127.4,182.0 L127.9,182.4 L128.5,182.8 L129.0,183.3 L129.6,183.7 L130.1,184.1 L130.7,184.5 L131.2,184.9 L131.8,185.3 L132.4,185.7 L132.9,186.1 L133.5,186.5 L134.0,186.8 L134.6,187.2 L135.1,187.5 L135.7,187.9 L136.3,188.2 L136.8,188.6 L137.4,188.9 L137.9,189.3 L138.5,189.6 L139.0,189.9 L139.6,190.2 L140.2,190.5 L140.7,190.9 L141.3,191.2 L141.8,191.5 L142.4,191.8 L142.9,192.0 L143.5,192.3 L144.0,192.6 L144.6,192.9 L145.2,193.2 L145.7,193.4 L146.3,193.7 L146.8,194.0 L147.4,194.2 L147.9,194.5 L148.5,194.7 L149.1,195.0 L149.6,195.2 L150.2,195.5 L150.7,195.7 L151.3,195.9 L151.8,196.2 L152.4,196.4 L152.9,196.6 L153.5,196.8 L154.1,197.1 L154.6,197.3 L155.2,197.5 L155.7,197.7 L156.3,197.9 L156.8,198.1 L157.4,198.3 L157.9,198.5 L158.5,198.7 L159.1,198.9 L159.6,199.0 L160.2,199.2 L160.7,199.4 L161.3,199.6 L161.8,199.7 L162.4,199.9 L163.0,200.1 L163.5,200.2 L164.1,200.4 L164.6,200.6 L165.2,200.7 L165.7,200.9 L166.3,201.0 L166.9,201.2 L167.4,201.3 L168.0,201.5 L168.5,201.6 L169.1,201.7 L169.6,201.9 L170.2,202.0 L170.7,202.1 L171.3,202.3 L171.9,202.4 L172.4,202.5 L173.0,202.7 L173.5,202.8 L174.1,202.9 L174.6,203.0 L175.2,203.1 L175.8,203.2 L176.3,203.4 L176.9,203.5 L177.4,203.6 L178.0,203.7 L178.5,203.8 L179.1,203.9 L179.6,204.0 L180.2,204.1 L180.8,204.2 L181.3,204.3 L181.9,204.4 L182.4,204.5 L183.0,204.6 L183.5,204.7 L184.1,204.8 L184.7,204.9 L185.2,205.0 L185.8,205.1 L186.3,205.2 L186.9,205.2 L187.4,205.3 L188.0,205.4 L188.5,205.5 L189.1,205.6 L189.7,205.7 L190.2,205.8 L190.8,205.8 L191.3,205.9 L191.9,206.0 L192.4,206.1 L193.0,206.2 L193.6,206.3 L194.1,206.3 L194.7,206.4 L195.2,206.5 L195.8,206.6 L196.3,206.7 L196.9,206.7 L197.4,206.8 L198.0,206.9" fill="none" stroke="#233F7E" stroke-width="1.65" stroke-linejoin="round"/><path d="M78.84,51.38V54.58M81.84,59.39V62.59M85.24,71.35V74.55M89.73,94.03V97.23M94.14,119.23V122.43M96.73,132.08V135.28M101.63,146.93V150.13M103.91,151.64V154.84M109.90,161.35V164.55M112.69,165.16V168.36M115.70,168.90V172.10M118.48,172.05V175.25M124.56,178.00V181.20M127.70,180.64V183.84M132.18,183.97V187.17M138.26,187.85V191.05M144.17,191.08V194.28M146.29,192.12V195.32M150.41,193.98V197.18M154.87,195.77V198.97M159.74,197.48V200.68M163.09,198.52V201.72M166.41,199.45V202.65M168.37,199.96V203.16M170.46,200.48V203.68M174.71,201.43V204.63M176.97,201.89V205.09M179.76,202.43V205.63M183.10,203.02V206.22M185.34,203.40V206.60M187.42,203.73V206.93M193.23,204.61V207.81M196.99,205.15V208.35M198.00,205.29V208.49" stroke="#233F7E" stroke-width="1"/>
</g>
<path d="M433.3,179.80H448.9" stroke="#E9BB22" stroke-width="1.3"/>
<path d="M441.2,177.70V181.90" stroke="#E9BB22" stroke-width="1.1"/>
<text x="452.3" y="182.70" font-size="8.2" fill="#1a1a1a">I−PET1 negative</text>
<path d="M433.3,192.53H448.9" stroke="#E08E12" stroke-width="1.3"/>
<path d="M441.2,190.43V194.63" stroke="#E08E12" stroke-width="1.1"/>
<text x="452.3" y="195.43" font-size="8.2" fill="#1a1a1a">I−PET1 positive</text>
<path d="M433.3,205.26H448.9" stroke="#DE8F8A" stroke-width="1.3"/>
<path d="M441.2,203.16V207.36" stroke="#DE8F8A" stroke-width="1.1"/>
<text x="452.3" y="208.16" font-size="8.2" fill="#1a1a1a">I−PET2 negative</text>
<path d="M433.3,217.99H448.9" stroke="#B80A30" stroke-width="1.3"/>
<path d="M441.2,215.89V220.09" stroke="#B80A30" stroke-width="1.1"/>
<text x="452.3" y="220.89" font-size="8.2" fill="#1a1a1a">I−PET2 positive</text>
<path d="M433.3,230.72H448.9" stroke="#63AC40" stroke-width="1.3"/>
<path d="M441.2,228.62V232.82" stroke="#63AC40" stroke-width="1.1"/>
<text x="452.3" y="233.62" font-size="8.2" fill="#1a1a1a">I−PET3 negative</text>
<path d="M433.3,243.45H448.9" stroke="#2F6B48" stroke-width="1.3"/>
<path d="M441.2,241.35V245.55" stroke="#2F6B48" stroke-width="1.1"/>
<text x="452.3" y="246.35" font-size="8.2" fill="#1a1a1a">I−PET3 positive</text>
<path d="M433.3,256.18H448.9" stroke="#509ADB" stroke-width="1.3"/>
<path d="M441.2,254.08V258.28" stroke="#509ADB" stroke-width="1.1"/>
<text x="452.3" y="259.08" font-size="8.2" fill="#1a1a1a">I−PET4 negative</text>
<path d="M433.3,268.91H448.9" stroke="#233F7E" stroke-width="1.3"/>
<path d="M441.2,266.81V271.01" stroke="#233F7E" stroke-width="1.1"/>
<text x="452.3" y="271.81" font-size="8.2" fill="#1a1a1a">I−PET4 positive</text>
</svg>
</body></html>
